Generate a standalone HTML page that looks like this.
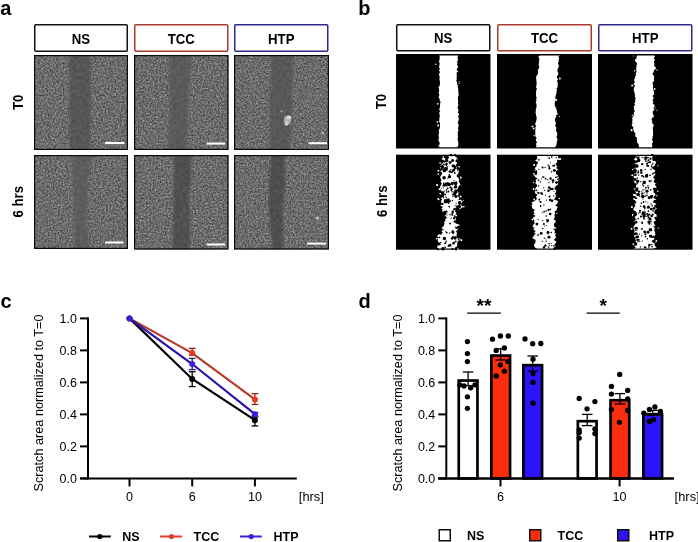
<!DOCTYPE html><html><head><meta charset="utf-8"><style>html,body{margin:0;padding:0;background:#fff;width:698px;height:542px;overflow:hidden;}svg{display:block;font-family:"Liberation Sans",sans-serif;filter:blur(0.35px);}</style></head><body><svg width="698" height="542" viewBox="0 0 698 542"><defs><filter id="soft" x="-20%" y="-20%" width="140%" height="140%"><feGaussianBlur stdDeviation="1.1"/></filter><filter id="n1" filterUnits="objectBoundingBox" x="0" y="0" width="1" height="1" color-interpolation-filters="sRGB"><feTurbulence type="fractalNoise" baseFrequency="0.6" numOctaves="3" seed="3" result="t"/><feColorMatrix in="t" type="matrix" values="0.55 0 0 0 0.14  0.55 0 0 0 0.14  0.55 0 0 0 0.14  0 0 0 0 1" result="c"/><feTurbulence type="fractalNoise" baseFrequency="0.7" numOctaves="1" seed="20" result="t2"/><feColorMatrix in="t2" type="matrix" values="4.0 0 0 0 -2.5  4.0 0 0 0 -2.5  4.0 0 0 0 -2.5  0 0 0 0 1" result="s"/><feComposite in="c" in2="s" operator="arithmetic" k1="0" k2="1" k3="0.25" k4="0" result="c2"/><feGaussianBlur in="c2" stdDeviation="0.3"/></filter><filter id="s1" filterUnits="objectBoundingBox" x="0" y="0" width="1" height="1" color-interpolation-filters="sRGB"><feTurbulence type="fractalNoise" baseFrequency="0.3" numOctaves="1" seed="53" result="t"/><feColorMatrix in="t" type="matrix" values="0.12 0 0 0 0.277  0.12 0 0 0 0.277  0.12 0 0 0 0.277  0 0 0 0 1" result="c"/><feGaussianBlur in="c" stdDeviation="0.35"/></filter><clipPath id="c1"><rect x="34" y="55" width="94" height="95"/></clipPath><mask id="b1" maskUnits="userSpaceOnUse" x="34" y="55" width="94" height="95"><path d="M69.3,55.0 L69.7,57.0 L69.5,59.0 L69.0,61.0 L68.9,63.0 L69.0,65.0 L69.4,67.0 L69.0,69.0 L69.7,71.0 L69.6,73.0 L70.1,75.0 L69.9,77.0 L69.1,79.0 L69.3,81.0 L69.1,83.0 L69.7,85.0 L69.6,87.0 L69.0,89.0 L69.7,91.0 L69.3,93.0 L69.4,95.0 L69.9,97.0 L69.2,99.0 L69.5,101.0 L69.8,103.0 L70.1,105.0 L69.4,107.0 L69.2,109.0 L69.0,111.0 L69.9,113.0 L70.1,115.0 L69.9,117.0 L69.8,119.0 L70.1,121.0 L69.7,123.0 L69.2,125.0 L69.9,127.0 L70.2,129.0 L69.7,131.0 L69.2,133.0 L69.4,135.0 L69.3,137.0 L69.4,139.0 L69.8,141.0 L69.4,143.0 L70.0,145.0 L70.4,147.0 L69.7,149.0 L69.8,150.0 L90.5,150.0 L89.9,149.0 L90.5,147.0 L90.5,145.0 L90.0,143.0 L90.6,141.0 L89.8,139.0 L90.5,137.0 L89.7,135.0 L90.2,133.0 L90.5,131.0 L90.0,129.0 L90.9,127.0 L90.6,125.0 L90.6,123.0 L90.9,121.0 L90.4,119.0 L90.5,117.0 L90.2,115.0 L90.6,113.0 L90.7,111.0 L90.5,109.0 L90.9,107.0 L90.2,105.0 L90.4,103.0 L91.1,101.0 L90.8,99.0 L91.0,97.0 L90.6,95.0 L90.9,93.0 L90.8,91.0 L90.6,89.0 L90.4,87.0 L90.8,85.0 L91.1,83.0 L91.3,81.0 L90.5,79.0 L90.6,77.0 L90.3,75.0 L90.7,73.0 L91.3,71.0 L90.4,69.0 L91.1,67.0 L90.2,65.0 L90.6,63.0 L90.6,61.0 L90.4,59.0 L90.0,57.0 L90.1,55.0Z" fill="#fff" filter="url(#soft)"/></mask><filter id="n2" filterUnits="objectBoundingBox" x="0" y="0" width="1" height="1" color-interpolation-filters="sRGB"><feTurbulence type="fractalNoise" baseFrequency="0.6" numOctaves="3" seed="5" result="t"/><feColorMatrix in="t" type="matrix" values="0.55 0 0 0 0.14  0.55 0 0 0 0.14  0.55 0 0 0 0.14  0 0 0 0 1" result="c"/><feTurbulence type="fractalNoise" baseFrequency="0.7" numOctaves="1" seed="22" result="t2"/><feColorMatrix in="t2" type="matrix" values="4.0 0 0 0 -2.5  4.0 0 0 0 -2.5  4.0 0 0 0 -2.5  0 0 0 0 1" result="s"/><feComposite in="c" in2="s" operator="arithmetic" k1="0" k2="1" k3="0.25" k4="0" result="c2"/><feGaussianBlur in="c2" stdDeviation="0.3"/></filter><filter id="s2" filterUnits="objectBoundingBox" x="0" y="0" width="1" height="1" color-interpolation-filters="sRGB"><feTurbulence type="fractalNoise" baseFrequency="0.3" numOctaves="1" seed="55" result="t"/><feColorMatrix in="t" type="matrix" values="0.12 0 0 0 0.293  0.12 0 0 0 0.293  0.12 0 0 0 0.293  0 0 0 0 1" result="c"/><feGaussianBlur in="c" stdDeviation="0.35"/></filter><clipPath id="c2"><rect x="134" y="55" width="94.5" height="95"/></clipPath><mask id="b2" maskUnits="userSpaceOnUse" x="134" y="55" width="94.5" height="95"><path d="M169.5,55.0 L168.7,57.0 L168.8,59.0 L169.2,61.0 L168.6,63.0 L169.1,65.0 L169.8,67.0 L169.3,69.0 L169.5,71.0 L169.9,73.0 L169.9,75.0 L169.3,77.0 L169.0,79.0 L169.0,81.0 L169.2,83.0 L169.4,85.0 L169.1,87.0 L169.2,89.0 L169.2,91.0 L169.9,93.0 L169.5,95.0 L169.7,97.0 L170.3,99.0 L169.9,101.0 L169.5,103.0 L169.7,105.0 L170.2,107.0 L169.2,109.0 L169.7,111.0 L169.6,113.0 L169.5,115.0 L169.8,117.0 L169.0,119.0 L168.8,121.0 L169.2,123.0 L168.8,125.0 L169.3,127.0 L169.3,129.0 L169.2,131.0 L168.4,133.0 L168.5,135.0 L168.0,137.0 L168.2,139.0 L168.9,141.0 L168.8,143.0 L168.8,145.0 L167.8,147.0 L167.7,149.0 L168.1,150.0 L187.1,150.0 L186.3,149.0 L186.4,147.0 L186.6,145.0 L187.4,143.0 L186.8,141.0 L187.2,139.0 L186.7,137.0 L186.5,135.0 L187.1,133.0 L187.4,131.0 L187.6,129.0 L187.9,127.0 L187.0,125.0 L187.7,123.0 L187.8,121.0 L187.4,119.0 L187.8,117.0 L188.2,115.0 L187.1,113.0 L187.3,111.0 L188.3,109.0 L187.5,107.0 L187.6,105.0 L187.5,103.0 L188.1,101.0 L188.9,99.0 L188.0,97.0 L188.4,95.0 L188.4,93.0 L189.4,91.0 L189.0,89.0 L188.9,87.0 L188.9,85.0 L189.2,83.0 L189.3,81.0 L190.1,79.0 L190.0,77.0 L190.7,75.0 L190.8,73.0 L190.1,71.0 L191.0,69.0 L191.2,67.0 L191.2,65.0 L191.2,63.0 L191.2,61.0 L191.6,59.0 L191.5,57.0 L191.6,55.0Z" fill="#fff" filter="url(#soft)"/></mask><filter id="n3" filterUnits="objectBoundingBox" x="0" y="0" width="1" height="1" color-interpolation-filters="sRGB"><feTurbulence type="fractalNoise" baseFrequency="0.6" numOctaves="3" seed="7" result="t"/><feColorMatrix in="t" type="matrix" values="0.55 0 0 0 0.14  0.55 0 0 0 0.14  0.55 0 0 0 0.14  0 0 0 0 1" result="c"/><feTurbulence type="fractalNoise" baseFrequency="0.7" numOctaves="1" seed="24" result="t2"/><feColorMatrix in="t2" type="matrix" values="4.0 0 0 0 -2.5  4.0 0 0 0 -2.5  4.0 0 0 0 -2.5  0 0 0 0 1" result="s"/><feComposite in="c" in2="s" operator="arithmetic" k1="0" k2="1" k3="0.25" k4="0" result="c2"/><feGaussianBlur in="c2" stdDeviation="0.3"/></filter><filter id="s3" filterUnits="objectBoundingBox" x="0" y="0" width="1" height="1" color-interpolation-filters="sRGB"><feTurbulence type="fractalNoise" baseFrequency="0.3" numOctaves="1" seed="57" result="t"/><feColorMatrix in="t" type="matrix" values="0.12 0 0 0 0.285  0.12 0 0 0 0.285  0.12 0 0 0 0.285  0 0 0 0 1" result="c"/><feGaussianBlur in="c" stdDeviation="0.35"/></filter><clipPath id="c3"><rect x="234" y="55" width="95" height="95"/></clipPath><mask id="b3" maskUnits="userSpaceOnUse" x="234" y="55" width="95" height="95"><path d="M272.1,55.0 L271.8,57.0 L271.1,59.0 L272.0,61.0 L271.7,63.0 L271.0,65.0 L271.1,67.0 L271.8,69.0 L271.0,71.0 L271.3,73.0 L270.5,75.0 L271.4,77.0 L270.4,79.0 L271.3,81.0 L270.5,83.0 L270.2,85.0 L271.1,87.0 L270.5,89.0 L270.3,91.0 L270.7,93.0 L270.0,95.0 L269.9,97.0 L269.8,99.0 L269.6,101.0 L269.8,103.0 L270.1,105.0 L269.9,107.0 L270.0,109.0 L270.0,111.0 L269.9,113.0 L269.4,115.0 L269.6,117.0 L270.3,119.0 L269.8,121.0 L270.1,123.0 L269.5,125.0 L269.7,127.0 L270.3,129.0 L270.1,131.0 L270.5,133.0 L270.1,135.0 L270.0,137.0 L269.9,139.0 L270.0,141.0 L270.2,143.0 L270.5,145.0 L270.1,147.0 L270.4,149.0 L269.5,150.0 L289.9,150.0 L289.6,149.0 L290.7,147.0 L289.9,145.0 L290.7,143.0 L290.9,141.0 L290.5,139.0 L290.8,137.0 L290.6,135.0 L290.6,133.0 L291.1,131.0 L290.9,129.0 L290.7,127.0 L291.1,125.0 L291.5,123.0 L291.2,121.0 L291.4,119.0 L291.4,117.0 L291.8,115.0 L291.2,113.0 L291.1,111.0 L291.8,109.0 L292.3,107.0 L292.4,105.0 L291.9,103.0 L292.5,101.0 L292.0,99.0 L292.2,97.0 L291.9,95.0 L291.8,93.0 L292.6,91.0 L292.7,89.0 L292.4,87.0 L291.7,85.0 L292.4,83.0 L292.6,81.0 L292.8,79.0 L292.8,77.0 L292.0,75.0 L292.1,73.0 L293.1,71.0 L292.4,69.0 L293.0,67.0 L293.0,65.0 L292.6,63.0 L293.0,61.0 L292.9,59.0 L293.1,57.0 L292.8,55.0Z" fill="#fff" filter="url(#soft)"/></mask><filter id="n4" filterUnits="objectBoundingBox" x="0" y="0" width="1" height="1" color-interpolation-filters="sRGB"><feTurbulence type="fractalNoise" baseFrequency="0.6" numOctaves="3" seed="9" result="t"/><feColorMatrix in="t" type="matrix" values="0.55 0 0 0 0.14  0.55 0 0 0 0.14  0.55 0 0 0 0.14  0 0 0 0 1" result="c"/><feTurbulence type="fractalNoise" baseFrequency="0.7" numOctaves="1" seed="26" result="t2"/><feColorMatrix in="t2" type="matrix" values="4.0 0 0 0 -2.5  4.0 0 0 0 -2.5  4.0 0 0 0 -2.5  0 0 0 0 1" result="s"/><feComposite in="c" in2="s" operator="arithmetic" k1="0" k2="1" k3="0.25" k4="0" result="c2"/><feGaussianBlur in="c2" stdDeviation="0.3"/></filter><filter id="s4" filterUnits="objectBoundingBox" x="0" y="0" width="1" height="1" color-interpolation-filters="sRGB"><feTurbulence type="fractalNoise" baseFrequency="0.3" numOctaves="1" seed="59" result="t"/><feColorMatrix in="t" type="matrix" values="0.12 0 0 0 0.305  0.12 0 0 0 0.305  0.12 0 0 0 0.305  0 0 0 0 1" result="c"/><feGaussianBlur in="c" stdDeviation="0.35"/></filter><clipPath id="c4"><rect x="34" y="155" width="94" height="94"/></clipPath><mask id="b4" maskUnits="userSpaceOnUse" x="34" y="155" width="94" height="94"><path d="M71.2,155.0 L71.3,157.0 L72.3,159.0 L71.7,161.0 L72.4,163.0 L72.8,165.0 L72.1,167.0 L72.5,169.0 L73.3,171.0 L72.4,173.0 L73.0,175.0 L72.7,177.0 L73.5,179.0 L73.4,181.0 L72.9,183.0 L73.7,185.0 L73.2,187.0 L74.1,189.0 L73.4,191.0 L73.4,193.0 L73.8,195.0 L74.0,197.0 L74.6,199.0 L73.9,201.0 L74.5,203.0 L74.0,205.0 L74.8,207.0 L74.2,209.0 L74.9,211.0 L74.4,213.0 L74.4,215.0 L74.9,217.0 L75.0,219.0 L74.6,221.0 L74.8,223.0 L74.3,225.0 L74.1,227.0 L74.4,229.0 L74.9,231.0 L74.5,233.0 L74.2,235.0 L74.1,237.0 L74.6,239.0 L73.9,241.0 L74.7,243.0 L74.5,245.0 L74.1,247.0 L73.9,249.0 L74.2,249.0 L90.6,249.0 L90.0,249.0 L90.2,247.0 L89.5,245.0 L88.9,243.0 L89.1,241.0 L89.0,239.0 L88.2,237.0 L88.0,235.0 L88.0,233.0 L87.9,231.0 L87.7,229.0 L87.4,227.0 L87.1,225.0 L87.0,223.0 L86.7,221.0 L87.4,219.0 L86.5,217.0 L87.1,215.0 L87.2,213.0 L87.2,211.0 L87.5,209.0 L87.0,207.0 L86.7,205.0 L87.6,203.0 L87.9,201.0 L87.2,199.0 L88.1,197.0 L87.3,195.0 L88.2,193.0 L87.7,191.0 L88.6,189.0 L88.8,187.0 L88.3,185.0 L88.2,183.0 L88.6,181.0 L88.3,179.0 L89.0,177.0 L89.2,175.0 L89.6,173.0 L90.3,171.0 L90.1,169.0 L91.0,167.0 L91.2,165.0 L90.5,163.0 L91.4,161.0 L91.9,159.0 L91.9,157.0 L91.6,155.0Z" fill="#fff" filter="url(#soft)"/></mask><filter id="n5" filterUnits="objectBoundingBox" x="0" y="0" width="1" height="1" color-interpolation-filters="sRGB"><feTurbulence type="fractalNoise" baseFrequency="0.6" numOctaves="3" seed="11" result="t"/><feColorMatrix in="t" type="matrix" values="0.55 0 0 0 0.14  0.55 0 0 0 0.14  0.55 0 0 0 0.14  0 0 0 0 1" result="c"/><feTurbulence type="fractalNoise" baseFrequency="0.7" numOctaves="1" seed="28" result="t2"/><feColorMatrix in="t2" type="matrix" values="4.0 0 0 0 -2.5  4.0 0 0 0 -2.5  4.0 0 0 0 -2.5  0 0 0 0 1" result="s"/><feComposite in="c" in2="s" operator="arithmetic" k1="0" k2="1" k3="0.25" k4="0" result="c2"/><feGaussianBlur in="c2" stdDeviation="0.3"/></filter><filter id="s5" filterUnits="objectBoundingBox" x="0" y="0" width="1" height="1" color-interpolation-filters="sRGB"><feTurbulence type="fractalNoise" baseFrequency="0.3" numOctaves="1" seed="61" result="t"/><feColorMatrix in="t" type="matrix" values="0.12 0 0 0 0.254  0.12 0 0 0 0.254  0.12 0 0 0 0.254  0 0 0 0 1" result="c"/><feGaussianBlur in="c" stdDeviation="0.35"/></filter><clipPath id="c5"><rect x="134" y="155" width="94.5" height="94.5"/></clipPath><mask id="b5" maskUnits="userSpaceOnUse" x="134" y="155" width="94.5" height="94.5"><path d="M174.2,155.0 L174.6,157.0 L174.2,159.0 L173.8,161.0 L173.7,163.0 L173.9,165.0 L173.7,167.0 L174.6,169.0 L173.8,171.0 L173.8,173.0 L173.6,175.0 L173.7,177.0 L174.5,179.0 L173.6,181.0 L173.6,183.0 L173.2,185.0 L173.8,187.0 L173.4,189.0 L173.1,191.0 L173.2,193.0 L173.1,195.0 L173.4,197.0 L173.7,199.0 L173.8,201.0 L173.7,203.0 L173.3,205.0 L174.0,207.0 L173.6,209.0 L172.8,211.0 L173.8,213.0 L173.5,215.0 L172.8,217.0 L173.2,219.0 L173.5,221.0 L173.2,223.0 L173.3,225.0 L172.7,227.0 L172.6,229.0 L172.5,231.0 L173.0,233.0 L173.0,235.0 L172.8,237.0 L173.2,239.0 L172.8,241.0 L172.9,243.0 L173.0,245.0 L172.1,247.0 L172.9,249.0 L172.9,249.5 L190.6,249.5 L189.6,249.0 L189.7,247.0 L189.6,245.0 L189.4,243.0 L189.9,241.0 L190.1,239.0 L189.2,237.0 L190.0,235.0 L189.9,233.0 L190.1,231.0 L189.5,229.0 L189.1,227.0 L189.9,225.0 L190.1,223.0 L190.0,221.0 L190.0,219.0 L189.5,217.0 L189.9,215.0 L189.6,213.0 L189.8,211.0 L189.6,209.0 L188.9,207.0 L189.1,205.0 L189.8,203.0 L189.6,201.0 L189.5,199.0 L189.3,197.0 L189.1,195.0 L189.7,193.0 L189.6,191.0 L190.0,189.0 L190.1,187.0 L190.1,185.0 L190.2,183.0 L191.0,181.0 L190.6,179.0 L191.2,177.0 L190.7,175.0 L190.9,173.0 L190.7,171.0 L191.3,169.0 L191.6,167.0 L190.9,165.0 L191.7,163.0 L191.1,161.0 L191.5,159.0 L192.0,157.0 L192.3,155.0Z" fill="#fff" filter="url(#soft)"/></mask><filter id="n6" filterUnits="objectBoundingBox" x="0" y="0" width="1" height="1" color-interpolation-filters="sRGB"><feTurbulence type="fractalNoise" baseFrequency="0.6" numOctaves="3" seed="13" result="t"/><feColorMatrix in="t" type="matrix" values="0.55 0 0 0 0.14  0.55 0 0 0 0.14  0.55 0 0 0 0.14  0 0 0 0 1" result="c"/><feTurbulence type="fractalNoise" baseFrequency="0.7" numOctaves="1" seed="30" result="t2"/><feColorMatrix in="t2" type="matrix" values="4.0 0 0 0 -2.5  4.0 0 0 0 -2.5  4.0 0 0 0 -2.5  0 0 0 0 1" result="s"/><feComposite in="c" in2="s" operator="arithmetic" k1="0" k2="1" k3="0.25" k4="0" result="c2"/><feGaussianBlur in="c2" stdDeviation="0.3"/></filter><filter id="s6" filterUnits="objectBoundingBox" x="0" y="0" width="1" height="1" color-interpolation-filters="sRGB"><feTurbulence type="fractalNoise" baseFrequency="0.3" numOctaves="1" seed="63" result="t"/><feColorMatrix in="t" type="matrix" values="0.12 0 0 0 0.246  0.12 0 0 0 0.246  0.12 0 0 0 0.246  0 0 0 0 1" result="c"/><feGaussianBlur in="c" stdDeviation="0.35"/></filter><clipPath id="c6"><rect x="234" y="155" width="95" height="94.5"/></clipPath><mask id="b6" maskUnits="userSpaceOnUse" x="234" y="155" width="95" height="94.5"><path d="M270.8,155.0 L270.6,157.0 L270.9,159.0 L270.6,161.0 L269.9,163.0 L270.5,165.0 L270.1,167.0 L269.4,169.0 L270.0,171.0 L269.9,173.0 L269.6,175.0 L269.4,177.0 L269.7,179.0 L269.7,181.0 L268.4,183.0 L269.4,185.0 L268.9,187.0 L268.7,189.0 L268.7,191.0 L268.6,193.0 L269.5,195.0 L269.4,197.0 L269.5,199.0 L268.7,201.0 L269.0,203.0 L268.4,205.0 L268.9,207.0 L268.6,209.0 L268.8,211.0 L268.5,213.0 L269.7,215.0 L270.0,217.0 L270.2,219.0 L269.7,221.0 L270.7,223.0 L270.1,225.0 L270.2,227.0 L270.2,229.0 L270.6,231.0 L270.7,233.0 L271.2,235.0 L271.3,237.0 L272.1,239.0 L271.9,241.0 L272.5,243.0 L272.4,245.0 L272.6,247.0 L272.9,249.0 L272.3,249.5 L282.5,249.5 L283.2,249.0 L282.9,247.0 L282.5,245.0 L283.1,243.0 L283.5,241.0 L283.4,239.0 L283.5,237.0 L282.6,235.0 L282.7,233.0 L283.5,231.0 L283.4,229.0 L282.5,227.0 L282.9,225.0 L283.1,223.0 L282.9,221.0 L282.7,219.0 L283.3,217.0 L282.5,215.0 L283.3,213.0 L283.5,211.0 L283.0,209.0 L283.1,207.0 L283.5,205.0 L283.0,203.0 L284.2,201.0 L284.1,199.0 L284.0,197.0 L283.7,195.0 L284.3,193.0 L284.6,191.0 L285.1,189.0 L284.5,187.0 L285.4,185.0 L284.9,183.0 L285.5,181.0 L284.6,179.0 L284.5,177.0 L284.9,175.0 L284.7,173.0 L285.2,171.0 L284.7,169.0 L284.4,167.0 L284.7,165.0 L284.6,163.0 L284.4,161.0 L285.1,159.0 L285.1,157.0 L284.8,155.0Z" fill="#fff" filter="url(#soft)"/></mask></defs><text x="0.3" y="14.6" font-family="Liberation Sans, sans-serif" font-size="20" font-weight="bold" text-anchor="start" fill="#000">a</text><text x="358.3" y="14.6" font-family="Liberation Sans, sans-serif" font-size="20" font-weight="bold" text-anchor="start" fill="#000">b</text><text x="0.6" y="307.7" font-family="Liberation Sans, sans-serif" font-size="20" font-weight="bold" text-anchor="start" fill="#000">c</text><text x="358.6" y="307.7" font-family="Liberation Sans, sans-serif" font-size="20" font-weight="bold" text-anchor="start" fill="#000">d</text><rect x="34.75" y="24.75" width="92.5" height="26.5" rx="1.0" fill="#fff" stroke="#111" stroke-width="1.5"/><text x="0" y="0" transform="translate(81.0 43.6) scale(0.93 1)" font-family="Liberation Sans, sans-serif" font-size="14.2" font-weight="bold" text-anchor="middle" fill="#000">NS</text><rect x="134.75" y="24.75" width="93.0" height="26.5" rx="1.0" fill="#fff" stroke="#aa3a33" stroke-width="1.5"/><text x="0" y="0" transform="translate(181.25 43.6) scale(0.93 1)" font-family="Liberation Sans, sans-serif" font-size="14.2" font-weight="bold" text-anchor="middle" fill="#000">TCC</text><rect x="234.75" y="24.75" width="93.0" height="26.5" rx="1.0" fill="#fff" stroke="#2d2a8c" stroke-width="1.5"/><text x="0" y="0" transform="translate(281.25 43.6) scale(0.93 1)" font-family="Liberation Sans, sans-serif" font-size="14.2" font-weight="bold" text-anchor="middle" fill="#000">HTP</text><rect x="396.75" y="24.75" width="93.0" height="26.0" rx="1.0" fill="#fff" stroke="#111" stroke-width="1.5"/><text x="0" y="0" transform="translate(443.25 43.1) scale(0.93 1)" font-family="Liberation Sans, sans-serif" font-size="14.2" font-weight="bold" text-anchor="middle" fill="#000">NS</text><rect x="497.75" y="24.75" width="93.5" height="26.0" rx="1.0" fill="#fff" stroke="#aa3a33" stroke-width="1.5"/><text x="0" y="0" transform="translate(544.5 43.1) scale(0.93 1)" font-family="Liberation Sans, sans-serif" font-size="14.2" font-weight="bold" text-anchor="middle" fill="#000">TCC</text><rect x="598.75" y="24.75" width="93.0" height="26.0" rx="1.0" fill="#fff" stroke="#2d2a8c" stroke-width="1.5"/><text x="0" y="0" transform="translate(645.25 43.1) scale(0.93 1)" font-family="Liberation Sans, sans-serif" font-size="14.2" font-weight="bold" text-anchor="middle" fill="#000">HTP</text><text x="0" y="0" transform="translate(22.5 102.3) rotate(-90) scale(0.93 1)" font-family="Liberation Sans, sans-serif" font-size="14.2" font-weight="bold" text-anchor="middle" fill="#000">T0</text><text x="0" y="0" transform="translate(22.5 201.8) rotate(-90) scale(0.93 1)" font-family="Liberation Sans, sans-serif" font-size="14.2" font-weight="bold" text-anchor="middle" fill="#000">6 hrs</text><text x="0" y="0" transform="translate(386.0 101.5) rotate(-90) scale(0.93 1)" font-family="Liberation Sans, sans-serif" font-size="14.2" font-weight="bold" text-anchor="middle" fill="#000">T0</text><text x="0" y="0" transform="translate(386.6 201.2) rotate(-90) scale(0.93 1)" font-family="Liberation Sans, sans-serif" font-size="14.2" font-weight="bold" text-anchor="middle" fill="#000">6 hrs</text><g clip-path="url(#c1)"><rect x="34" y="55" width="94" height="95" fill="#666" filter="url(#n1)"/><rect x="34" y="55" width="94" height="95" fill="#555" filter="url(#s1)" mask="url(#b1)"/><rect x="105" y="142" width="19.200000000000003" height="2" fill="#fff"/></g><rect x="34.6" y="55.6" width="92.8" height="93.8" fill="none" stroke="#0a0a0a" stroke-width="1.2"/><g clip-path="url(#c2)"><rect x="134" y="55" width="94.5" height="95" fill="#666" filter="url(#n2)"/><rect x="134" y="55" width="94.5" height="95" fill="#555" filter="url(#s2)" mask="url(#b2)"/><rect x="206.8" y="142.6" width="18.19999999999999" height="2" fill="#fff"/></g><rect x="134.6" y="55.6" width="93.3" height="93.8" fill="none" stroke="#0a0a0a" stroke-width="1.2"/><g clip-path="url(#c3)"><rect x="234" y="55" width="95" height="95" fill="#666" filter="url(#n3)"/><rect x="234" y="55" width="95" height="95" fill="#555" filter="url(#s3)" mask="url(#b3)"/><ellipse cx="287.5" cy="120" rx="3.6" ry="4.6" fill="#b0b0b0"/><ellipse cx="289" cy="117.5" rx="2.4" ry="2" fill="#d8d8d8"/><ellipse cx="286.5" cy="123.5" rx="2" ry="2.2" fill="#cfcfcf"/><ellipse cx="281.5" cy="111.5" rx="1" ry="1" fill="#b5b5b5"/><ellipse cx="322.6" cy="133" rx="1.6" ry="1.2" fill="#aaa"/><rect x="308.6" y="142.2" width="18.399999999999977" height="2" fill="#fff"/></g><rect x="234.6" y="55.6" width="93.8" height="93.8" fill="none" stroke="#0a0a0a" stroke-width="1.2"/><g clip-path="url(#c4)"><rect x="34" y="155" width="94" height="94" fill="#666" filter="url(#n4)"/><rect x="34" y="155" width="94" height="94" fill="#555" filter="url(#s4)" mask="url(#b4)"/><rect x="105" y="241.5" width="18.5" height="2" fill="#fff"/></g><rect x="34.6" y="155.6" width="92.8" height="92.8" fill="none" stroke="#0a0a0a" stroke-width="1.2"/><g clip-path="url(#c5)"><rect x="134" y="155" width="94.5" height="94.5" fill="#666" filter="url(#n5)"/><rect x="134" y="155" width="94.5" height="94.5" fill="#555" filter="url(#s5)" mask="url(#b5)"/><rect x="206.8" y="243.5" width="18.399999999999977" height="2" fill="#fff"/></g><rect x="134.6" y="155.6" width="93.3" height="93.3" fill="none" stroke="#0a0a0a" stroke-width="1.2"/><g clip-path="url(#c6)"><rect x="234" y="155" width="95" height="94.5" fill="#666" filter="url(#n6)"/><rect x="234" y="155" width="95" height="94.5" fill="#555" filter="url(#s6)" mask="url(#b6)"/><ellipse cx="317.3" cy="218.2" rx="1.8" ry="1.4" fill="#b8b8b8"/><rect x="307.3" y="242.6" width="18.69999999999999" height="2" fill="#fff"/></g><rect x="234.6" y="155.6" width="93.8" height="93.3" fill="none" stroke="#0a0a0a" stroke-width="1.2"/><rect x="396" y="54" width="94.5" height="94.5" fill="#000"/><path d="M439.1,55.4 L439.9,56.9 L439.5,58.4 L439.6,59.9 L438.8,61.4 L439.7,62.9 L439.6,64.4 L439.2,65.9 L439.0,67.4 L440.0,68.9 L438.8,70.4 L440.2,71.9 L439.2,73.4 L439.0,74.9 L439.7,76.4 L439.5,77.9 L439.5,79.4 L439.7,80.9 L440.2,82.4 L439.7,83.9 L439.9,85.4 L438.4,86.9 L439.0,88.4 L439.1,89.9 L439.1,91.4 L438.5,92.9 L439.4,94.4 L439.0,95.9 L438.5,97.4 L439.8,98.9 L439.6,100.4 L440.7,101.9 L440.1,103.4 L440.1,104.9 L440.0,106.4 L439.8,107.9 L439.0,109.4 L440.2,110.9 L439.3,112.4 L439.4,113.9 L439.7,115.4 L439.8,116.9 L439.2,118.4 L439.4,119.9 L439.0,121.4 L440.1,122.9 L439.9,124.4 L440.1,125.9 L439.9,127.4 L439.4,128.9 L438.6,130.4 L439.1,131.9 L438.9,133.4 L438.5,134.9 L438.8,136.4 L439.0,137.9 L438.3,139.4 L438.6,140.9 L439.6,142.4 L439.6,143.9 L439.0,145.4 L439.7,146.9 L438.8,147.3 L457.2,147.3 L457.3,146.9 L458.4,145.4 L458.3,143.9 L458.3,142.4 L458.0,140.9 L457.5,139.4 L457.8,137.9 L458.1,136.4 L457.7,134.9 L457.9,133.4 L457.6,131.9 L458.6,130.4 L458.0,128.9 L458.2,127.4 L458.5,125.9 L458.7,124.4 L457.6,122.9 L458.4,121.4 L458.4,119.9 L459.1,118.4 L458.1,116.9 L458.5,115.4 L459.0,113.9 L457.8,112.4 L458.4,110.9 L458.5,109.4 L457.5,107.9 L457.9,106.4 L458.4,104.9 L457.9,103.4 L458.2,101.9 L458.1,100.4 L458.0,98.9 L457.8,97.4 L458.3,95.9 L458.7,94.4 L458.3,92.9 L458.4,91.4 L458.1,89.9 L458.3,88.4 L457.6,86.9 L458.1,85.4 L456.9,83.9 L457.2,82.4 L456.2,80.9 L456.8,79.4 L456.5,77.9 L456.9,76.4 L456.5,74.9 L456.8,73.4 L456.8,71.9 L457.2,70.4 L456.6,68.9 L458.0,67.4 L457.8,65.9 L456.9,64.4 L457.6,62.9 L457.0,61.4 L458.2,59.9 L457.7,58.4 L457.5,56.9 L458.4,55.4Z" fill="#fff"/><g fill="#fff"><circle cx="438.2" cy="125.4" r="0.98"/><circle cx="457.7" cy="71.4" r="0.60"/><circle cx="437.8" cy="103.8" r="0.89"/><circle cx="459.1" cy="81.8" r="0.57"/><circle cx="459.1" cy="83.5" r="0.61"/><circle cx="435.8" cy="64.3" r="0.76"/><circle cx="438.8" cy="146.2" r="0.59"/><circle cx="437.5" cy="121.9" r="0.80"/></g><rect x="497" y="54" width="95" height="94.5" fill="#000"/><path d="M539.7,55.4 L538.2,56.9 L539.4,58.4 L539.1,59.9 L539.0,61.4 L538.9,62.9 L538.6,64.4 L539.0,65.9 L539.3,67.4 L538.4,68.9 L537.7,70.4 L538.3,71.9 L537.8,73.4 L537.3,74.9 L536.1,76.4 L536.1,77.9 L536.3,79.4 L536.4,80.9 L536.7,82.4 L536.5,83.9 L536.5,85.4 L535.9,86.9 L536.8,88.4 L536.5,89.9 L536.0,91.4 L536.1,92.9 L536.1,94.4 L535.9,95.9 L536.7,97.4 L536.2,98.9 L536.5,100.4 L535.6,101.9 L536.3,103.4 L536.5,104.9 L536.5,106.4 L536.4,107.9 L535.6,109.4 L535.9,110.9 L535.5,112.4 L535.9,113.9 L536.1,115.4 L536.6,116.9 L536.7,118.4 L536.4,119.9 L536.1,121.4 L535.4,122.9 L535.1,124.4 L536.2,125.9 L535.2,127.4 L535.6,128.9 L535.1,130.4 L535.4,131.9 L535.3,133.4 L535.3,134.9 L535.4,136.4 L536.7,137.9 L535.7,139.4 L536.1,140.9 L537.1,142.4 L535.6,143.9 L536.6,145.4 L535.9,146.9 L535.7,147.3 L555.0,147.3 L555.0,146.9 L556.4,145.4 L556.5,143.9 L556.9,142.4 L556.9,140.9 L557.7,139.4 L556.7,137.9 L556.6,136.4 L557.2,134.9 L557.3,133.4 L556.7,131.9 L555.9,130.4 L556.3,128.9 L556.3,127.4 L555.1,125.9 L555.5,124.4 L556.1,122.9 L555.1,121.4 L554.8,119.9 L555.0,118.4 L556.3,116.9 L556.0,115.4 L558.1,113.9 L556.9,112.4 L557.0,110.9 L556.4,109.4 L556.1,107.9 L555.0,106.4 L554.8,104.9 L554.7,103.4 L555.0,101.9 L555.2,100.4 L555.9,98.9 L555.1,97.4 L555.7,95.9 L556.0,94.4 L556.6,92.9 L556.4,91.4 L557.1,89.9 L556.4,88.4 L557.8,86.9 L557.6,85.4 L557.8,83.9 L557.7,82.4 L556.8,80.9 L558.2,79.4 L557.0,77.9 L556.9,76.4 L557.8,74.9 L558.5,73.4 L557.7,71.9 L557.3,70.4 L557.8,68.9 L558.3,67.4 L559.1,65.9 L558.3,64.4 L558.0,62.9 L558.8,61.4 L558.5,59.9 L559.3,58.4 L558.3,56.9 L559.8,55.4Z" fill="#fff"/><g fill="#fff"><circle cx="532.4" cy="126.4" r="0.95"/><circle cx="534.1" cy="135.5" r="0.64"/><circle cx="559.4" cy="116.4" r="0.51"/><circle cx="533.6" cy="128.5" r="0.97"/><circle cx="556.2" cy="100.0" r="1.08"/><circle cx="559.9" cy="78.5" r="0.92"/></g><rect x="598" y="54" width="94.5" height="94.5" fill="#000"/><path d="M636.9,55.4 L636.6,56.9 L636.5,58.4 L634.7,59.9 L635.3,61.4 L637.0,62.9 L636.8,64.4 L636.4,65.9 L636.4,67.4 L636.1,68.9 L636.4,70.4 L636.6,71.9 L635.5,73.4 L636.1,74.9 L635.2,76.4 L635.0,77.9 L634.2,79.4 L634.2,80.9 L635.0,82.4 L633.4,83.9 L635.0,85.4 L634.2,86.9 L633.9,88.4 L633.6,89.9 L634.2,91.4 L634.5,92.9 L635.0,94.4 L634.8,95.9 L635.3,97.4 L635.5,98.9 L635.1,100.4 L635.3,101.9 L634.2,103.4 L635.2,104.9 L633.6,106.4 L634.2,107.9 L633.9,109.4 L634.8,110.9 L633.9,112.4 L633.8,113.9 L633.8,115.4 L632.7,116.9 L632.1,118.4 L632.7,119.9 L631.9,121.4 L632.7,122.9 L631.6,124.4 L632.1,125.9 L633.5,127.4 L633.0,128.9 L633.6,130.4 L634.1,131.9 L635.5,133.4 L635.2,134.9 L635.3,136.4 L637.2,137.9 L636.7,139.4 L637.1,140.9 L636.9,142.4 L638.6,143.9 L638.7,145.4 L639.0,146.9 L639.1,147.3 L652.9,147.3 L652.1,146.9 L652.4,145.4 L651.7,143.9 L652.8,142.4 L652.8,140.9 L651.8,139.4 L652.8,137.9 L652.5,136.4 L653.3,134.9 L652.9,133.4 L653.1,131.9 L653.1,130.4 L652.9,128.9 L652.7,127.4 L653.8,125.9 L653.5,124.4 L652.0,122.9 L652.4,121.4 L651.6,119.9 L651.6,118.4 L653.6,116.9 L653.9,115.4 L652.9,113.9 L652.7,112.4 L653.0,110.9 L654.7,109.4 L653.3,107.9 L654.5,106.4 L654.7,104.9 L652.6,103.4 L653.5,101.9 L652.6,100.4 L653.1,98.9 L653.9,97.4 L652.3,95.9 L654.1,94.4 L654.0,92.9 L654.0,91.4 L653.4,89.9 L653.1,88.4 L652.9,86.9 L653.2,85.4 L652.7,83.9 L652.5,82.4 L654.2,80.9 L653.9,79.4 L654.1,77.9 L654.1,76.4 L653.2,74.9 L652.4,73.4 L653.9,71.9 L653.6,70.4 L655.7,68.9 L656.0,67.4 L654.1,65.9 L654.4,64.4 L654.2,62.9 L653.8,61.4 L655.1,59.9 L653.6,58.4 L654.7,56.9 L654.7,55.4Z" fill="#fff"/><g fill="#fff"><circle cx="633.2" cy="56.1" r="0.51"/><circle cx="654.7" cy="88.9" r="0.86"/><circle cx="634.7" cy="70.8" r="0.72"/><circle cx="656.9" cy="110.3" r="0.56"/><circle cx="631.8" cy="130.8" r="0.63"/><circle cx="631.6" cy="130.0" r="0.91"/><circle cx="632.3" cy="115.4" r="0.69"/><circle cx="632.2" cy="85.5" r="1.01"/><circle cx="656.9" cy="70.0" r="0.63"/><circle cx="655.2" cy="107.7" r="0.57"/></g><rect x="396" y="154.7" width="94.5" height="95.0" fill="#000"/><path d="M442.5,156.1 L442.9,157.6 L441.3,159.1 L444.5,160.6 L443.6,162.1 L442.4,163.6 L440.7,165.1 L440.7,166.6 L442.9,168.1 L442.6,169.6 L440.4,171.1 L441.9,172.6 L442.3,174.1 L440.9,175.6 L440.3,177.1 L440.0,178.6 L441.7,180.1 L440.2,181.6 L441.6,183.1 L441.5,184.6 L440.0,186.1 L440.4,187.6 L438.6,189.1 L441.3,190.6 L438.2,192.1 L439.2,193.6 L440.3,195.1 L442.7,196.6 L440.6,198.1 L441.8,199.6 L441.0,201.1 L441.1,202.6 L443.5,204.1 L440.2,205.6 L443.0,207.1 L441.4,208.6 L442.1,210.1 L442.5,211.6 L446.8,213.1 L446.3,214.6 L443.5,216.1 L447.3,217.6 L445.0,219.1 L445.6,220.6 L444.1,222.1 L444.5,223.6 L444.1,225.1 L443.3,226.6 L441.4,228.1 L443.7,229.6 L441.1,231.1 L443.1,232.6 L439.3,234.1 L438.1,235.6 L439.9,237.1 L437.2,238.6 L438.0,240.1 L437.5,241.6 L440.1,243.1 L441.0,244.6 L438.0,246.1 L437.1,247.6 L438.0,248.5 L458.6,248.5 L456.8,247.6 L456.9,246.1 L457.3,244.6 L457.2,243.1 L457.9,241.6 L459.9,240.1 L458.0,238.6 L456.7,237.1 L456.8,235.6 L456.5,234.1 L458.0,232.6 L456.7,231.1 L457.9,229.6 L457.2,228.1 L456.6,226.6 L460.2,225.1 L455.9,223.6 L455.1,222.1 L456.6,220.6 L456.1,219.1 L455.3,217.6 L453.4,216.1 L456.0,214.6 L456.5,213.1 L457.8,211.6 L459.3,210.1 L461.1,208.6 L463.3,207.1 L461.5,205.6 L460.7,204.1 L462.3,202.6 L462.5,201.1 L459.9,199.6 L459.0,198.1 L458.3,196.6 L458.3,195.1 L458.4,193.6 L458.6,192.1 L456.5,190.6 L457.8,189.1 L458.5,187.6 L458.7,186.1 L460.6,184.6 L459.7,183.1 L458.9,181.6 L461.3,180.1 L458.3,178.6 L458.4,177.1 L460.2,175.6 L457.6,174.1 L460.5,172.6 L459.3,171.1 L457.4,169.6 L459.6,168.1 L459.9,166.6 L456.4,165.1 L457.1,163.6 L456.8,162.1 L459.0,160.6 L457.4,159.1 L456.4,157.6 L456.1,156.1Z" fill="#fff"/><g fill="#000"><circle cx="440.7" cy="233.6" r="1.23"/><circle cx="444.1" cy="177.7" r="1.78"/><circle cx="458.2" cy="168.2" r="1.51"/><circle cx="456.1" cy="248.8" r="1.59"/><circle cx="445.4" cy="201.7" r="1.79"/><circle cx="455.7" cy="186.7" r="1.58"/><circle cx="452.9" cy="232.1" r="1.62"/><circle cx="459.8" cy="180.2" r="1.07"/><circle cx="454.1" cy="218.2" r="1.11"/><circle cx="452.6" cy="160.4" r="1.51"/><circle cx="458.9" cy="175.5" r="1.01"/><circle cx="455.1" cy="238.0" r="1.70"/><circle cx="452.2" cy="238.2" r="1.30"/><circle cx="440.9" cy="199.5" r="1.03"/><circle cx="456.8" cy="211.2" r="1.55"/><circle cx="455.1" cy="167.9" r="1.47"/><circle cx="455.9" cy="155.7" r="1.08"/><circle cx="458.9" cy="206.3" r="1.28"/><circle cx="460.1" cy="176.9" r="1.09"/><circle cx="457.1" cy="165.6" r="1.46"/><circle cx="455.7" cy="195.9" r="1.06"/><circle cx="444.4" cy="238.4" r="1.75"/><circle cx="442.8" cy="194.8" r="1.79"/><circle cx="449.9" cy="171.5" r="1.30"/><circle cx="457.1" cy="206.2" r="1.01"/><circle cx="449.3" cy="184.3" r="1.64"/><circle cx="445.9" cy="200.7" r="1.76"/><circle cx="459.3" cy="188.6" r="1.56"/><circle cx="448.9" cy="184.5" r="1.82"/><circle cx="455.7" cy="183.7" r="1.55"/><circle cx="455.9" cy="196.7" r="1.33"/><circle cx="445.3" cy="217.6" r="1.13"/><circle cx="457.6" cy="231.6" r="1.33"/><circle cx="454.2" cy="209.4" r="1.08"/><circle cx="442.6" cy="192.9" r="1.59"/><circle cx="439.5" cy="185.7" r="1.02"/><circle cx="450.0" cy="245.3" r="1.45"/><circle cx="457.1" cy="209.2" r="1.87"/><circle cx="453.2" cy="165.8" r="1.67"/><circle cx="447.6" cy="183.5" r="1.54"/><circle cx="445.9" cy="184.1" r="1.56"/><circle cx="455.4" cy="192.7" r="1.26"/><circle cx="442.9" cy="193.8" r="1.49"/><circle cx="451.8" cy="189.3" r="1.14"/><circle cx="458.7" cy="161.1" r="1.83"/><circle cx="444.8" cy="212.1" r="1.23"/><circle cx="458.3" cy="175.8" r="1.70"/><circle cx="446.1" cy="168.8" r="1.85"/><circle cx="453.6" cy="170.2" r="1.49"/><circle cx="448.7" cy="245.8" r="1.14"/><circle cx="446.7" cy="163.9" r="1.11"/><circle cx="446.6" cy="160.5" r="1.80"/><circle cx="457.6" cy="207.9" r="1.50"/><circle cx="459.6" cy="202.4" r="1.44"/><circle cx="456.7" cy="161.1" r="1.23"/><circle cx="456.3" cy="191.9" r="1.30"/><circle cx="439.6" cy="191.4" r="1.79"/><circle cx="444.8" cy="156.5" r="1.14"/><circle cx="449.5" cy="176.7" r="1.65"/><circle cx="460.1" cy="172.3" r="1.64"/><circle cx="455.9" cy="190.7" r="1.53"/><circle cx="457.5" cy="164.9" r="1.27"/><circle cx="452.7" cy="211.7" r="1.23"/><circle cx="452.3" cy="183.9" r="1.31"/><circle cx="457.3" cy="212.1" r="1.32"/><circle cx="450.1" cy="162.4" r="1.49"/><circle cx="446.2" cy="211.5" r="1.06"/><circle cx="456.0" cy="220.9" r="1.74"/><circle cx="459.7" cy="203.1" r="1.56"/><circle cx="452.3" cy="213.8" r="1.03"/><circle cx="448.2" cy="200.1" r="1.80"/><circle cx="451.9" cy="183.0" r="1.03"/><circle cx="454.5" cy="193.9" r="1.78"/><circle cx="455.8" cy="183.1" r="1.63"/><circle cx="440.0" cy="196.3" r="1.80"/><circle cx="453.6" cy="243.2" r="1.37"/><circle cx="444.4" cy="185.2" r="1.46"/><circle cx="446.9" cy="157.6" r="1.82"/><circle cx="442.2" cy="167.3" r="1.89"/><circle cx="444.3" cy="170.5" r="1.84"/><circle cx="448.3" cy="202.1" r="1.41"/><circle cx="442.9" cy="248.8" r="1.76"/><circle cx="446.3" cy="165.5" r="0.78"/><circle cx="444.5" cy="161.9" r="0.86"/><circle cx="445.2" cy="157.3" r="0.60"/><circle cx="447.5" cy="158.0" r="0.99"/><circle cx="457.0" cy="212.3" r="0.59"/><circle cx="459.5" cy="175.1" r="0.84"/><circle cx="456.3" cy="247.7" r="0.85"/><circle cx="443.4" cy="164.6" r="0.74"/><circle cx="449.2" cy="206.6" r="0.87"/><circle cx="445.7" cy="158.3" r="0.62"/><circle cx="454.4" cy="209.2" r="0.67"/><circle cx="458.3" cy="189.2" r="0.60"/><circle cx="443.4" cy="187.8" r="0.51"/><circle cx="454.7" cy="172.9" r="0.97"/><circle cx="447.5" cy="201.9" r="0.86"/><circle cx="446.5" cy="192.0" r="0.73"/><circle cx="441.8" cy="188.5" r="0.51"/><circle cx="445.4" cy="194.4" r="0.78"/><circle cx="458.5" cy="239.7" r="0.76"/><circle cx="452.0" cy="171.9" r="0.80"/><circle cx="450.0" cy="223.5" r="0.90"/><circle cx="444.0" cy="167.8" r="0.64"/><circle cx="452.8" cy="196.0" r="0.59"/><circle cx="450.3" cy="187.5" r="0.98"/><circle cx="444.9" cy="243.6" r="0.77"/><circle cx="460.6" cy="206.4" r="0.60"/><circle cx="459.3" cy="199.5" r="0.80"/><circle cx="452.3" cy="248.5" r="0.80"/><circle cx="456.7" cy="159.6" r="0.54"/><circle cx="447.2" cy="212.1" r="0.53"/><circle cx="444.9" cy="199.9" r="0.74"/><circle cx="459.7" cy="181.5" r="0.94"/><circle cx="439.1" cy="182.0" r="0.76"/><circle cx="442.8" cy="161.5" r="0.71"/><circle cx="455.7" cy="241.4" r="0.98"/><circle cx="457.8" cy="232.4" r="0.96"/><circle cx="438.1" cy="249.6" r="0.65"/><circle cx="442.9" cy="203.9" r="0.82"/><circle cx="456.2" cy="203.2" r="0.53"/><circle cx="441.8" cy="196.1" r="0.88"/><circle cx="444.8" cy="185.5" r="0.79"/><circle cx="442.1" cy="165.9" r="0.98"/><circle cx="450.9" cy="169.6" r="0.71"/><circle cx="455.1" cy="183.6" r="0.76"/><circle cx="455.1" cy="205.7" r="0.59"/><circle cx="452.4" cy="200.5" r="0.79"/><circle cx="461.6" cy="208.9" r="0.84"/><circle cx="446.4" cy="197.6" r="0.66"/><circle cx="443.5" cy="183.2" r="0.74"/><circle cx="453.2" cy="182.4" r="0.66"/><circle cx="442.7" cy="185.9" r="0.55"/><circle cx="438.1" cy="249.2" r="0.93"/><circle cx="451.5" cy="154.9" r="0.61"/><circle cx="447.7" cy="178.0" r="0.62"/><circle cx="445.8" cy="196.6" r="0.54"/><circle cx="442.8" cy="229.8" r="0.50"/><circle cx="452.8" cy="249.1" r="0.78"/><circle cx="445.1" cy="247.3" r="0.84"/><circle cx="454.8" cy="154.8" r="0.79"/><circle cx="450.1" cy="201.2" r="0.87"/><circle cx="446.8" cy="192.0" r="0.61"/><circle cx="444.3" cy="157.3" r="0.73"/><circle cx="452.1" cy="238.6" r="0.94"/><circle cx="441.1" cy="192.3" r="0.96"/><circle cx="457.9" cy="196.0" r="0.79"/><circle cx="439.8" cy="181.7" r="0.94"/><circle cx="449.5" cy="177.3" r="0.94"/><circle cx="447.6" cy="188.4" r="0.92"/><circle cx="440.9" cy="166.5" r="0.85"/><circle cx="455.3" cy="227.2" r="0.64"/><circle cx="445.5" cy="168.1" r="0.86"/><circle cx="462.9" cy="208.3" r="0.89"/><circle cx="454.6" cy="187.7" r="0.89"/><circle cx="451.1" cy="218.2" r="0.59"/><circle cx="444.6" cy="216.2" r="0.98"/><circle cx="439.4" cy="237.3" r="0.91"/><circle cx="456.4" cy="228.0" r="0.92"/><circle cx="442.9" cy="209.3" r="0.53"/><circle cx="453.1" cy="196.6" r="0.61"/><circle cx="452.5" cy="230.5" r="0.59"/><circle cx="455.4" cy="155.2" r="0.61"/><circle cx="448.1" cy="156.0" r="0.79"/><circle cx="459.8" cy="209.5" r="0.67"/><circle cx="447.1" cy="215.0" r="0.55"/><circle cx="453.2" cy="236.6" r="0.94"/><circle cx="444.0" cy="191.2" r="0.74"/><circle cx="456.2" cy="191.5" r="0.82"/><circle cx="454.4" cy="221.6" r="0.96"/><circle cx="444.0" cy="164.9" r="0.73"/><circle cx="456.2" cy="236.8" r="0.68"/><circle cx="455.3" cy="208.4" r="0.64"/><circle cx="451.6" cy="155.4" r="0.94"/><circle cx="456.5" cy="181.9" r="0.58"/><circle cx="452.1" cy="191.8" r="0.81"/><circle cx="450.8" cy="172.7" r="0.54"/><circle cx="448.8" cy="183.8" r="0.55"/><circle cx="459.6" cy="205.0" r="0.88"/><circle cx="451.7" cy="172.5" r="0.63"/><circle cx="446.3" cy="241.3" r="0.80"/><circle cx="457.6" cy="170.2" r="0.67"/><circle cx="456.7" cy="222.0" r="0.98"/><circle cx="446.7" cy="170.4" r="0.52"/><circle cx="449.3" cy="174.7" r="0.76"/><circle cx="447.5" cy="166.8" r="0.76"/><circle cx="446.7" cy="232.6" r="0.96"/><circle cx="445.9" cy="231.2" r="0.56"/><circle cx="462.3" cy="202.5" r="0.54"/><circle cx="451.2" cy="190.3" r="0.81"/><circle cx="443.7" cy="169.7" r="0.69"/><circle cx="452.6" cy="171.7" r="0.70"/><circle cx="453.4" cy="170.7" r="0.65"/><circle cx="454.1" cy="180.5" r="0.52"/><circle cx="454.0" cy="218.6" r="0.60"/><circle cx="449.7" cy="233.0" r="0.63"/><circle cx="454.3" cy="166.7" r="0.71"/><circle cx="446.5" cy="190.1" r="0.79"/><circle cx="448.5" cy="191.6" r="0.99"/><circle cx="445.5" cy="242.8" r="0.90"/><circle cx="443.6" cy="164.5" r="0.81"/><circle cx="442.3" cy="203.5" r="0.84"/><circle cx="453.3" cy="233.3" r="0.64"/><circle cx="450.6" cy="155.0" r="0.99"/><circle cx="440.8" cy="242.5" r="0.70"/><circle cx="459.8" cy="207.5" r="0.94"/><circle cx="452.3" cy="215.0" r="0.86"/><circle cx="438.5" cy="242.8" r="0.67"/><circle cx="440.3" cy="179.0" r="0.81"/><circle cx="441.6" cy="195.3" r="0.79"/><circle cx="446.0" cy="164.1" r="0.95"/><circle cx="455.2" cy="166.5" r="0.76"/><circle cx="443.3" cy="197.2" r="0.93"/><circle cx="448.7" cy="203.6" r="0.64"/><circle cx="450.0" cy="214.8" r="0.82"/><circle cx="453.8" cy="182.8" r="0.95"/><circle cx="454.3" cy="191.4" r="0.67"/><circle cx="446.8" cy="185.7" r="0.92"/><circle cx="451.6" cy="187.7" r="0.80"/><circle cx="452.7" cy="194.7" r="0.75"/><circle cx="457.5" cy="210.5" r="0.95"/></g><g fill="#fff"><circle cx="459.9" cy="239.0" r="0.63"/><circle cx="463.4" cy="200.2" r="0.54"/><circle cx="438.1" cy="246.1" r="0.74"/><circle cx="439.3" cy="189.5" r="0.81"/><circle cx="438.6" cy="199.2" r="0.95"/><circle cx="440.1" cy="162.9" r="0.78"/><circle cx="460.7" cy="196.5" r="0.95"/><circle cx="437.0" cy="185.0" r="1.08"/><circle cx="437.9" cy="198.8" r="0.64"/><circle cx="458.1" cy="249.3" r="0.74"/><circle cx="463.8" cy="206.7" r="0.83"/><circle cx="460.8" cy="177.5" r="0.90"/><circle cx="461.3" cy="240.2" r="0.99"/><circle cx="438.4" cy="236.2" r="1.10"/><circle cx="438.4" cy="170.8" r="0.94"/><circle cx="438.3" cy="174.1" r="0.82"/><circle cx="455.4" cy="220.0" r="0.58"/><circle cx="440.5" cy="167.8" r="0.66"/><circle cx="436.5" cy="238.8" r="0.70"/><circle cx="456.1" cy="215.6" r="0.94"/></g><rect x="497" y="154.7" width="95" height="95.0" fill="#000"/><path d="M536.9,156.1 L537.4,157.6 L537.3,159.1 L535.0,160.6 L537.9,162.1 L537.8,163.6 L536.4,165.1 L536.6,166.6 L534.8,168.1 L535.6,169.6 L537.1,171.1 L537.2,172.6 L536.6,174.1 L534.5,175.6 L535.1,177.1 L537.6,178.6 L535.4,180.1 L536.2,181.6 L535.2,183.1 L536.8,184.6 L537.4,186.1 L535.8,187.6 L535.1,189.1 L535.7,190.6 L534.8,192.1 L535.9,193.6 L537.4,195.1 L535.9,196.6 L536.8,198.1 L536.6,199.6 L534.7,201.1 L531.5,202.6 L532.6,204.1 L531.4,205.6 L532.0,207.1 L532.3,208.6 L535.0,210.1 L533.4,211.6 L534.2,213.1 L533.2,214.6 L535.6,216.1 L533.1,217.6 L533.1,219.1 L534.6,220.6 L533.6,222.1 L534.1,223.6 L533.2,225.1 L532.5,226.6 L534.5,228.1 L532.9,229.6 L535.6,231.1 L533.9,232.6 L534.5,234.1 L534.2,235.6 L533.0,237.1 L533.0,238.6 L535.7,240.1 L535.5,241.6 L535.4,243.1 L533.9,244.6 L534.2,246.1 L534.8,247.6 L537.2,248.5 L555.6,248.5 L554.4,247.6 L555.8,246.1 L554.5,244.6 L555.8,243.1 L556.4,241.6 L553.9,240.1 L555.1,238.6 L556.4,237.1 L554.8,235.6 L556.1,234.1 L554.3,232.6 L555.2,231.1 L553.7,229.6 L556.7,228.1 L554.0,226.6 L554.0,225.1 L554.1,223.6 L555.8,222.1 L555.5,220.6 L553.4,219.1 L555.0,217.6 L554.5,216.1 L554.6,214.6 L555.2,213.1 L554.4,211.6 L556.8,210.1 L556.7,208.6 L557.9,207.1 L555.2,205.6 L557.0,204.1 L557.8,202.6 L557.8,201.1 L555.0,199.6 L554.8,198.1 L556.0,196.6 L555.7,195.1 L555.0,193.6 L556.2,192.1 L556.1,190.6 L554.6,189.1 L555.1,187.6 L555.8,186.1 L558.1,184.6 L558.2,183.1 L557.6,181.6 L558.7,180.1 L558.5,178.6 L556.3,177.1 L558.4,175.6 L556.0,174.1 L556.0,172.6 L556.0,171.1 L558.4,169.6 L556.1,168.1 L557.2,166.6 L556.1,165.1 L555.7,163.6 L557.4,162.1 L556.8,160.6 L558.3,159.1 L558.3,157.6 L557.7,156.1Z" fill="#fff"/><g fill="#000"><circle cx="544.0" cy="247.4" r="1.19"/><circle cx="543.9" cy="224.0" r="1.07"/><circle cx="538.5" cy="193.1" r="1.13"/><circle cx="554.7" cy="248.6" r="1.28"/><circle cx="540.8" cy="202.1" r="0.95"/><circle cx="553.0" cy="180.6" r="1.42"/><circle cx="552.3" cy="189.0" r="1.36"/><circle cx="547.8" cy="220.7" r="1.36"/><circle cx="550.5" cy="189.2" r="1.07"/><circle cx="552.0" cy="200.8" r="1.31"/><circle cx="556.5" cy="182.6" r="1.29"/><circle cx="532.8" cy="209.9" r="1.23"/><circle cx="550.6" cy="178.5" r="1.18"/><circle cx="548.0" cy="232.3" r="1.38"/><circle cx="549.3" cy="187.7" r="1.34"/><circle cx="541.2" cy="233.4" r="1.41"/><circle cx="549.0" cy="237.3" r="1.49"/><circle cx="545.3" cy="245.6" r="1.22"/><circle cx="554.4" cy="170.5" r="1.46"/><circle cx="550.2" cy="200.0" r="1.33"/><circle cx="536.9" cy="224.1" r="1.37"/><circle cx="548.5" cy="209.9" r="1.15"/><circle cx="550.2" cy="214.0" r="1.28"/><circle cx="533.7" cy="223.1" r="1.00"/><circle cx="549.5" cy="196.6" r="1.03"/><circle cx="547.0" cy="219.9" r="0.93"/><circle cx="539.3" cy="199.5" r="0.93"/><circle cx="542.6" cy="167.4" r="1.01"/><circle cx="536.0" cy="173.1" r="1.18"/><circle cx="548.4" cy="190.8" r="1.25"/><circle cx="556.0" cy="177.3" r="0.90"/><circle cx="541.3" cy="193.2" r="1.15"/><circle cx="554.1" cy="165.6" r="1.12"/><circle cx="549.2" cy="158.1" r="0.96"/><circle cx="540.7" cy="206.5" r="0.73"/><circle cx="551.8" cy="245.7" r="0.67"/><circle cx="547.9" cy="231.9" r="0.65"/><circle cx="548.9" cy="168.2" r="0.73"/><circle cx="555.1" cy="245.6" r="0.74"/><circle cx="554.8" cy="188.1" r="0.50"/><circle cx="548.2" cy="165.0" r="0.75"/><circle cx="549.6" cy="168.1" r="0.86"/><circle cx="544.6" cy="190.4" r="0.59"/><circle cx="557.2" cy="182.4" r="0.65"/><circle cx="553.9" cy="246.0" r="0.74"/><circle cx="557.7" cy="179.4" r="0.70"/><circle cx="542.2" cy="194.2" r="0.89"/><circle cx="539.8" cy="201.4" r="0.69"/><circle cx="549.4" cy="166.3" r="0.68"/><circle cx="552.8" cy="182.5" r="0.83"/><circle cx="547.4" cy="156.0" r="0.61"/><circle cx="551.1" cy="243.5" r="0.60"/><circle cx="538.6" cy="180.1" r="0.90"/><circle cx="548.9" cy="182.6" r="0.69"/><circle cx="546.2" cy="216.0" r="0.80"/><circle cx="552.6" cy="165.9" r="0.62"/><circle cx="540.6" cy="205.4" r="0.62"/><circle cx="543.9" cy="205.0" r="0.64"/><circle cx="546.5" cy="225.5" r="0.51"/><circle cx="545.6" cy="178.7" r="0.87"/><circle cx="545.8" cy="239.1" r="0.51"/><circle cx="542.8" cy="228.6" r="0.73"/><circle cx="547.2" cy="222.0" r="0.69"/><circle cx="542.3" cy="241.3" r="0.66"/><circle cx="537.8" cy="235.6" r="0.62"/><circle cx="534.7" cy="233.6" r="0.83"/><circle cx="542.7" cy="220.7" r="0.61"/><circle cx="554.0" cy="228.9" r="0.56"/><circle cx="546.7" cy="200.1" r="0.70"/><circle cx="538.6" cy="186.1" r="0.73"/><circle cx="534.7" cy="231.8" r="0.59"/><circle cx="551.3" cy="232.6" r="0.77"/><circle cx="551.7" cy="157.1" r="0.89"/><circle cx="549.3" cy="249.5" r="0.52"/><circle cx="538.2" cy="234.7" r="0.76"/><circle cx="549.5" cy="245.2" r="0.55"/><circle cx="555.9" cy="182.5" r="0.56"/><circle cx="542.4" cy="212.7" r="0.56"/><circle cx="534.2" cy="213.8" r="0.54"/><circle cx="536.9" cy="190.7" r="0.52"/><circle cx="550.4" cy="209.3" r="0.85"/><circle cx="545.1" cy="167.5" r="0.63"/><circle cx="544.1" cy="211.7" r="0.88"/><circle cx="536.5" cy="190.2" r="0.78"/><circle cx="549.7" cy="169.1" r="0.70"/><circle cx="546.1" cy="241.2" r="0.75"/><circle cx="547.8" cy="179.7" r="0.60"/><circle cx="544.8" cy="226.0" r="0.55"/><circle cx="543.7" cy="177.0" r="0.79"/><circle cx="551.6" cy="171.7" r="0.76"/><circle cx="550.5" cy="162.8" r="0.54"/><circle cx="548.8" cy="166.6" r="0.60"/><circle cx="544.3" cy="238.0" r="0.63"/><circle cx="533.7" cy="230.4" r="0.79"/><circle cx="538.9" cy="159.8" r="0.88"/><circle cx="538.2" cy="219.4" r="0.55"/><circle cx="548.5" cy="247.1" r="0.83"/><circle cx="549.5" cy="168.0" r="0.64"/><circle cx="542.8" cy="177.0" r="0.75"/><circle cx="543.7" cy="187.8" r="0.55"/><circle cx="548.0" cy="233.7" r="0.82"/><circle cx="553.8" cy="195.9" r="0.71"/><circle cx="546.1" cy="211.0" r="0.80"/><circle cx="537.4" cy="192.3" r="0.51"/><circle cx="536.1" cy="173.9" r="0.86"/><circle cx="551.8" cy="200.4" r="0.50"/><circle cx="554.9" cy="199.4" r="0.75"/><circle cx="545.4" cy="195.4" r="0.54"/><circle cx="538.9" cy="169.4" r="0.65"/><circle cx="554.1" cy="191.3" r="0.56"/><circle cx="541.5" cy="178.8" r="0.56"/><circle cx="540.4" cy="182.0" r="0.69"/><circle cx="556.2" cy="157.7" r="0.65"/><circle cx="549.0" cy="243.8" r="0.77"/></g><g fill="#fff"><circle cx="534.1" cy="199.5" r="0.90"/><circle cx="533.4" cy="182.4" r="0.60"/><circle cx="533.9" cy="173.8" r="0.89"/><circle cx="556.9" cy="213.4" r="0.61"/><circle cx="533.6" cy="189.0" r="0.93"/><circle cx="535.3" cy="170.2" r="0.63"/><circle cx="559.6" cy="158.9" r="0.66"/><circle cx="559.2" cy="198.6" r="0.75"/><circle cx="560.2" cy="159.0" r="0.93"/><circle cx="558.0" cy="177.2" r="0.78"/><circle cx="532.4" cy="219.6" r="0.97"/><circle cx="558.7" cy="159.3" r="0.88"/><circle cx="533.3" cy="237.8" r="0.81"/><circle cx="535.6" cy="192.9" r="0.69"/><circle cx="534.2" cy="165.0" r="1.01"/><circle cx="534.3" cy="175.1" r="0.71"/></g><rect x="598" y="154.7" width="94.5" height="95.0" fill="#000"/><path d="M636.8,156.1 L635.5,157.6 L633.6,159.1 L635.4,160.6 L635.0,162.1 L634.6,163.6 L636.4,165.1 L635.6,166.6 L634.2,168.1 L636.6,169.6 L636.6,171.1 L636.8,172.6 L633.7,174.1 L636.6,175.6 L633.7,177.1 L635.8,178.6 L637.1,180.1 L634.1,181.6 L634.7,183.1 L636.9,184.6 L635.8,186.1 L636.4,187.6 L633.3,189.1 L635.6,190.6 L635.5,192.1 L636.6,193.6 L633.6,195.1 L634.3,196.6 L635.0,198.1 L633.9,199.6 L635.8,201.1 L636.1,202.6 L634.3,204.1 L635.5,205.6 L634.5,207.1 L633.5,208.6 L633.2,210.1 L635.9,211.6 L636.9,213.1 L636.8,214.6 L635.6,216.1 L634.7,217.6 L636.1,219.1 L634.8,220.6 L634.5,222.1 L635.8,223.6 L634.8,225.1 L633.5,226.6 L633.3,228.1 L634.3,229.6 L634.6,231.1 L633.8,232.6 L636.3,234.1 L633.9,235.6 L634.7,237.1 L634.3,238.6 L636.0,240.1 L635.4,241.6 L636.4,243.1 L635.1,244.6 L634.3,246.1 L635.9,247.6 L633.9,248.5 L653.1,248.5 L656.8,247.6 L655.0,246.1 L654.4,244.6 L654.6,243.1 L657.0,241.6 L654.4,240.1 L654.3,238.6 L653.6,237.1 L655.0,235.6 L655.5,234.1 L654.7,232.6 L656.8,231.1 L654.1,229.6 L655.4,228.1 L653.1,226.6 L656.2,225.1 L654.1,223.6 L653.4,222.1 L655.9,220.6 L655.1,219.1 L656.4,217.6 L656.6,216.1 L656.6,214.6 L654.0,213.1 L654.6,211.6 L654.7,210.1 L657.0,208.6 L654.6,207.1 L654.2,205.6 L656.6,204.1 L653.1,202.6 L653.0,201.1 L656.4,199.6 L653.5,198.1 L653.7,196.6 L655.6,195.1 L655.0,193.6 L653.3,192.1 L654.1,190.6 L654.3,189.1 L656.8,187.6 L655.7,186.1 L654.9,184.6 L656.6,183.1 L655.4,181.6 L655.2,180.1 L654.0,178.6 L653.6,177.1 L654.5,175.6 L656.0,174.1 L654.1,172.6 L655.5,171.1 L653.8,169.6 L654.9,168.1 L655.4,166.6 L654.3,165.1 L655.9,163.6 L655.7,162.1 L655.7,160.6 L655.3,159.1 L653.7,157.6 L655.9,156.1Z" fill="#fff"/><g fill="#000"><circle cx="635.3" cy="197.4" r="1.02"/><circle cx="636.3" cy="228.2" r="1.57"/><circle cx="654.6" cy="189.1" r="1.68"/><circle cx="638.6" cy="160.6" r="1.76"/><circle cx="643.3" cy="213.0" r="1.63"/><circle cx="644.8" cy="232.0" r="1.38"/><circle cx="642.2" cy="164.2" r="1.12"/><circle cx="647.3" cy="214.1" r="1.12"/><circle cx="636.1" cy="214.4" r="1.08"/><circle cx="644.1" cy="216.0" r="1.72"/><circle cx="649.4" cy="214.5" r="1.10"/><circle cx="635.7" cy="233.8" r="1.49"/><circle cx="654.0" cy="241.3" r="1.71"/><circle cx="649.3" cy="197.6" r="1.63"/><circle cx="654.5" cy="167.7" r="1.73"/><circle cx="651.1" cy="196.6" r="1.36"/><circle cx="649.6" cy="181.0" r="1.05"/><circle cx="655.6" cy="230.7" r="1.23"/><circle cx="635.6" cy="244.0" r="1.69"/><circle cx="655.1" cy="181.3" r="1.34"/><circle cx="634.5" cy="242.3" r="1.07"/><circle cx="648.0" cy="232.3" r="1.43"/><circle cx="638.2" cy="157.8" r="1.30"/><circle cx="655.5" cy="159.6" r="1.61"/><circle cx="649.4" cy="244.9" r="1.27"/><circle cx="650.0" cy="162.1" r="1.09"/><circle cx="644.2" cy="206.7" r="1.40"/><circle cx="636.1" cy="161.8" r="1.42"/><circle cx="645.6" cy="157.6" r="1.12"/><circle cx="637.5" cy="181.5" r="1.45"/><circle cx="639.0" cy="191.6" r="1.18"/><circle cx="654.0" cy="208.3" r="1.34"/><circle cx="641.2" cy="170.2" r="1.19"/><circle cx="651.3" cy="209.1" r="1.46"/><circle cx="641.3" cy="172.6" r="1.30"/><circle cx="642.8" cy="196.6" r="1.80"/><circle cx="648.6" cy="207.1" r="1.57"/><circle cx="651.7" cy="216.0" r="1.30"/><circle cx="655.4" cy="218.0" r="1.13"/><circle cx="642.4" cy="214.1" r="1.05"/><circle cx="650.6" cy="158.5" r="1.09"/><circle cx="636.1" cy="222.2" r="1.29"/><circle cx="646.0" cy="157.8" r="1.63"/><circle cx="646.5" cy="176.1" r="1.74"/><circle cx="644.4" cy="182.6" r="1.58"/><circle cx="637.5" cy="236.8" r="1.53"/><circle cx="636.8" cy="166.1" r="1.79"/><circle cx="653.9" cy="159.5" r="1.60"/><circle cx="650.0" cy="218.9" r="1.52"/><circle cx="643.8" cy="182.0" r="1.16"/><circle cx="651.1" cy="236.3" r="1.63"/><circle cx="647.0" cy="175.0" r="1.20"/><circle cx="650.4" cy="229.8" r="1.80"/><circle cx="649.0" cy="222.0" r="1.62"/><circle cx="647.1" cy="163.6" r="1.03"/><circle cx="636.7" cy="189.6" r="1.76"/><circle cx="654.0" cy="157.4" r="1.76"/><circle cx="652.3" cy="196.1" r="1.04"/><circle cx="634.6" cy="167.9" r="1.05"/><circle cx="652.0" cy="154.9" r="1.07"/><circle cx="640.0" cy="210.8" r="1.11"/><circle cx="638.1" cy="194.5" r="1.78"/><circle cx="647.1" cy="191.2" r="1.45"/><circle cx="644.5" cy="214.3" r="1.22"/><circle cx="653.3" cy="167.7" r="1.15"/><circle cx="651.8" cy="197.3" r="0.79"/><circle cx="651.8" cy="244.8" r="0.76"/><circle cx="647.0" cy="166.1" r="0.74"/><circle cx="645.6" cy="236.6" r="0.85"/><circle cx="644.3" cy="231.8" r="0.92"/><circle cx="637.2" cy="240.1" r="0.96"/><circle cx="652.8" cy="237.3" r="0.67"/><circle cx="637.2" cy="178.6" r="0.69"/><circle cx="641.9" cy="235.9" r="0.50"/><circle cx="636.0" cy="183.7" r="0.81"/><circle cx="654.4" cy="227.7" r="0.54"/><circle cx="636.9" cy="190.8" r="0.96"/><circle cx="645.4" cy="234.2" r="0.98"/><circle cx="651.1" cy="204.1" r="0.74"/><circle cx="655.8" cy="189.3" r="0.92"/><circle cx="653.1" cy="210.9" r="0.82"/><circle cx="635.3" cy="230.5" r="0.57"/><circle cx="647.3" cy="165.1" r="0.86"/><circle cx="645.2" cy="169.4" r="0.56"/><circle cx="651.1" cy="220.0" r="0.54"/><circle cx="648.6" cy="247.8" r="0.56"/><circle cx="637.6" cy="188.0" r="0.86"/><circle cx="637.7" cy="241.8" r="0.59"/><circle cx="652.9" cy="214.4" r="0.87"/><circle cx="636.5" cy="198.2" r="0.81"/><circle cx="651.7" cy="198.0" r="0.79"/><circle cx="655.4" cy="224.4" r="0.81"/><circle cx="639.9" cy="241.3" r="0.50"/><circle cx="634.4" cy="238.5" r="1.00"/><circle cx="635.4" cy="198.0" r="0.64"/><circle cx="642.4" cy="223.2" r="0.81"/><circle cx="652.2" cy="164.4" r="0.69"/><circle cx="637.1" cy="233.8" r="0.83"/><circle cx="642.9" cy="199.3" r="0.51"/><circle cx="652.4" cy="205.2" r="0.55"/><circle cx="634.3" cy="197.0" r="1.00"/><circle cx="648.9" cy="246.8" r="0.74"/><circle cx="637.1" cy="161.4" r="0.85"/><circle cx="655.8" cy="230.2" r="0.93"/><circle cx="639.7" cy="196.3" r="0.77"/><circle cx="646.0" cy="187.6" r="0.94"/><circle cx="655.6" cy="197.7" r="0.86"/><circle cx="650.3" cy="159.0" r="0.83"/><circle cx="634.0" cy="213.8" r="0.94"/><circle cx="645.8" cy="201.8" r="0.59"/><circle cx="634.9" cy="158.1" r="0.60"/><circle cx="637.6" cy="183.6" r="0.53"/><circle cx="649.4" cy="223.8" r="0.94"/><circle cx="650.0" cy="175.4" r="0.80"/><circle cx="653.0" cy="163.3" r="0.68"/><circle cx="638.3" cy="172.3" r="0.96"/><circle cx="642.6" cy="175.7" r="0.77"/><circle cx="648.4" cy="188.8" r="0.54"/><circle cx="646.9" cy="195.5" r="0.81"/><circle cx="639.9" cy="212.6" r="0.82"/><circle cx="644.5" cy="247.1" r="0.82"/><circle cx="639.4" cy="234.2" r="0.63"/><circle cx="640.4" cy="246.9" r="0.71"/><circle cx="655.7" cy="189.9" r="0.77"/><circle cx="637.4" cy="239.8" r="0.64"/><circle cx="641.0" cy="216.4" r="0.83"/><circle cx="635.7" cy="202.9" r="0.56"/><circle cx="645.7" cy="196.4" r="0.59"/><circle cx="634.3" cy="179.7" r="0.63"/><circle cx="642.6" cy="184.1" r="0.80"/><circle cx="649.8" cy="235.7" r="0.87"/><circle cx="644.9" cy="181.6" r="0.86"/><circle cx="639.1" cy="239.6" r="0.51"/><circle cx="645.4" cy="159.5" r="0.94"/><circle cx="651.1" cy="169.3" r="0.82"/><circle cx="653.9" cy="236.8" r="0.55"/><circle cx="636.8" cy="230.1" r="0.56"/><circle cx="644.8" cy="192.6" r="0.53"/><circle cx="638.1" cy="180.9" r="0.57"/><circle cx="635.0" cy="164.1" r="0.61"/><circle cx="643.3" cy="185.8" r="0.85"/><circle cx="644.7" cy="212.8" r="0.66"/><circle cx="638.2" cy="213.1" r="0.59"/><circle cx="648.7" cy="165.4" r="0.57"/><circle cx="641.9" cy="175.9" r="0.78"/><circle cx="647.0" cy="216.2" r="0.80"/><circle cx="653.9" cy="173.0" r="0.87"/><circle cx="642.8" cy="193.4" r="0.79"/><circle cx="648.1" cy="166.1" r="0.95"/><circle cx="645.0" cy="189.3" r="0.63"/><circle cx="642.2" cy="241.1" r="0.68"/><circle cx="642.1" cy="222.4" r="0.95"/><circle cx="647.0" cy="193.8" r="0.65"/><circle cx="644.4" cy="210.7" r="0.55"/><circle cx="637.3" cy="239.2" r="0.79"/><circle cx="644.3" cy="219.0" r="0.66"/><circle cx="656.0" cy="197.8" r="0.51"/><circle cx="647.3" cy="238.8" r="0.74"/><circle cx="648.1" cy="215.3" r="0.92"/><circle cx="645.2" cy="247.5" r="0.68"/><circle cx="653.9" cy="189.1" r="0.74"/><circle cx="646.9" cy="161.4" r="0.56"/><circle cx="648.3" cy="187.6" r="0.81"/><circle cx="652.3" cy="205.7" r="0.80"/><circle cx="651.9" cy="246.9" r="0.63"/><circle cx="641.9" cy="228.9" r="0.97"/><circle cx="643.2" cy="213.5" r="0.59"/><circle cx="641.6" cy="235.3" r="0.51"/><circle cx="634.0" cy="231.0" r="0.52"/><circle cx="648.1" cy="157.6" r="0.78"/><circle cx="654.6" cy="200.6" r="0.74"/><circle cx="655.7" cy="174.2" r="0.56"/><circle cx="639.2" cy="159.4" r="0.99"/><circle cx="641.9" cy="194.4" r="0.68"/><circle cx="650.6" cy="189.9" r="0.82"/><circle cx="638.4" cy="181.2" r="0.91"/><circle cx="645.0" cy="208.0" r="0.60"/><circle cx="645.5" cy="247.5" r="0.96"/><circle cx="648.0" cy="218.7" r="0.51"/><circle cx="652.8" cy="241.5" r="0.54"/><circle cx="648.8" cy="162.5" r="0.83"/><circle cx="655.6" cy="173.0" r="0.55"/><circle cx="644.6" cy="208.7" r="0.67"/><circle cx="643.7" cy="218.2" r="0.88"/><circle cx="634.0" cy="227.9" r="0.66"/><circle cx="640.5" cy="206.2" r="0.80"/><circle cx="636.8" cy="157.5" r="0.76"/><circle cx="638.8" cy="175.1" r="0.71"/><circle cx="648.4" cy="211.2" r="0.80"/><circle cx="643.5" cy="202.0" r="0.93"/><circle cx="653.8" cy="236.7" r="0.97"/><circle cx="638.3" cy="218.5" r="0.85"/><circle cx="640.7" cy="181.6" r="0.70"/><circle cx="643.8" cy="157.8" r="0.60"/><circle cx="643.6" cy="176.8" r="0.88"/><circle cx="640.9" cy="216.7" r="0.86"/><circle cx="641.9" cy="193.3" r="0.70"/><circle cx="637.6" cy="181.9" r="0.98"/><circle cx="648.4" cy="211.3" r="0.80"/><circle cx="647.8" cy="202.3" r="0.50"/><circle cx="645.8" cy="160.9" r="0.73"/><circle cx="639.0" cy="155.9" r="0.65"/><circle cx="652.4" cy="246.6" r="0.52"/><circle cx="641.8" cy="191.6" r="0.57"/><circle cx="655.6" cy="182.3" r="0.96"/><circle cx="651.1" cy="180.4" r="0.56"/><circle cx="635.8" cy="214.7" r="0.82"/><circle cx="655.9" cy="211.5" r="0.79"/><circle cx="639.2" cy="241.3" r="0.81"/><circle cx="635.8" cy="174.5" r="0.99"/><circle cx="642.0" cy="157.3" r="0.66"/><circle cx="652.7" cy="173.8" r="0.88"/><circle cx="646.4" cy="191.1" r="0.91"/><circle cx="648.4" cy="160.3" r="0.93"/><circle cx="645.5" cy="212.2" r="0.62"/><circle cx="638.2" cy="170.7" r="0.68"/><circle cx="651.1" cy="181.8" r="0.58"/><circle cx="651.4" cy="166.7" r="0.73"/><circle cx="651.8" cy="165.6" r="0.52"/><circle cx="643.0" cy="190.1" r="0.76"/><circle cx="654.2" cy="177.4" r="0.79"/><circle cx="648.0" cy="185.8" r="0.69"/><circle cx="647.1" cy="207.9" r="0.62"/><circle cx="635.9" cy="237.4" r="0.97"/><circle cx="645.2" cy="195.0" r="0.55"/><circle cx="641.3" cy="203.3" r="0.81"/><circle cx="636.1" cy="219.9" r="0.54"/><circle cx="638.3" cy="239.8" r="0.84"/><circle cx="651.2" cy="224.1" r="0.50"/><circle cx="652.5" cy="215.3" r="0.52"/><circle cx="653.2" cy="155.4" r="0.85"/><circle cx="650.9" cy="221.8" r="0.81"/><circle cx="637.8" cy="173.8" r="0.51"/><circle cx="648.6" cy="217.3" r="1.00"/><circle cx="637.4" cy="178.0" r="0.69"/></g><g fill="#fff"><circle cx="633.3" cy="244.1" r="0.92"/><circle cx="632.1" cy="175.3" r="0.88"/><circle cx="633.9" cy="198.8" r="0.84"/><circle cx="632.7" cy="214.5" r="0.64"/><circle cx="658.1" cy="228.2" r="0.66"/><circle cx="656.8" cy="195.8" r="0.71"/><circle cx="657.8" cy="165.8" r="0.66"/><circle cx="634.6" cy="176.8" r="1.05"/><circle cx="632.5" cy="169.6" r="0.70"/><circle cx="634.0" cy="194.9" r="1.09"/><circle cx="634.1" cy="180.8" r="0.56"/><circle cx="632.8" cy="175.2" r="0.69"/><circle cx="631.6" cy="228.8" r="0.93"/><circle cx="631.9" cy="207.0" r="1.07"/><circle cx="656.4" cy="240.9" r="0.84"/><circle cx="657.8" cy="191.2" r="0.78"/><circle cx="632.5" cy="215.6" r="0.68"/><circle cx="634.0" cy="168.8" r="0.58"/></g><line x1="88" y1="317.4" x2="88" y2="479.4" stroke="#000" stroke-width="2"/><line x1="80" y1="478.4" x2="88" y2="478.4" stroke="#000" stroke-width="2"/><text x="77.0" y="482.79999999999995" font-family="Liberation Sans, sans-serif" font-size="12.5" font-weight="normal" text-anchor="end" fill="#000">0.0</text><line x1="80" y1="446.4" x2="88" y2="446.4" stroke="#000" stroke-width="2"/><text x="77.0" y="450.79999999999995" font-family="Liberation Sans, sans-serif" font-size="12.5" font-weight="normal" text-anchor="end" fill="#000">0.2</text><line x1="80" y1="414.4" x2="88" y2="414.4" stroke="#000" stroke-width="2"/><text x="77.0" y="418.79999999999995" font-family="Liberation Sans, sans-serif" font-size="12.5" font-weight="normal" text-anchor="end" fill="#000">0.4</text><line x1="80" y1="382.4" x2="88" y2="382.4" stroke="#000" stroke-width="2"/><text x="77.0" y="386.79999999999995" font-family="Liberation Sans, sans-serif" font-size="12.5" font-weight="normal" text-anchor="end" fill="#000">0.6</text><line x1="80" y1="350.4" x2="88" y2="350.4" stroke="#000" stroke-width="2"/><text x="77.0" y="354.79999999999995" font-family="Liberation Sans, sans-serif" font-size="12.5" font-weight="normal" text-anchor="end" fill="#000">0.8</text><line x1="80" y1="318.4" x2="88" y2="318.4" stroke="#000" stroke-width="2"/><text x="77.0" y="322.79999999999995" font-family="Liberation Sans, sans-serif" font-size="12.5" font-weight="normal" text-anchor="end" fill="#000">1.0</text><line x1="80" y1="478.4" x2="296.8" y2="478.4" stroke="#000" stroke-width="2"/><line x1="129.5" y1="478.4" x2="129.5" y2="486.4" stroke="#000" stroke-width="2"/><text x="129.5" y="501.29999999999995" font-family="Liberation Sans, sans-serif" font-size="12.6" font-weight="normal" text-anchor="middle" fill="#000">0</text><line x1="192.2" y1="478.4" x2="192.2" y2="486.4" stroke="#000" stroke-width="2"/><text x="192.2" y="501.29999999999995" font-family="Liberation Sans, sans-serif" font-size="12.6" font-weight="normal" text-anchor="middle" fill="#000">6</text><line x1="254.9" y1="478.4" x2="254.9" y2="486.4" stroke="#000" stroke-width="2"/><text x="254.9" y="501.29999999999995" font-family="Liberation Sans, sans-serif" font-size="12.6" font-weight="normal" text-anchor="middle" fill="#000">10</text><text x="298.8" y="501.0" font-family="Liberation Sans, sans-serif" font-size="12.9" font-weight="normal" text-anchor="start" fill="#000">[hrs]</text><text x="43.3" y="403.0" font-family="Liberation Sans, sans-serif" font-size="12.7" font-weight="normal" text-anchor="middle" fill="#000" transform="rotate(-90 43.3 403.0)">Scratch area normalized to T=0</text><line x1="192.2" y1="386.56" x2="192.2" y2="371.67999999999995" stroke="#000" stroke-width="1.3"/><line x1="188.79999999999998" y1="386.56" x2="195.6" y2="386.56" stroke="#000" stroke-width="1.3"/><line x1="188.79999999999998" y1="371.67999999999995" x2="195.6" y2="371.67999999999995" stroke="#000" stroke-width="1.3"/><line x1="254.9" y1="425.91999999999996" x2="254.9" y2="417.12" stroke="#000" stroke-width="1.3"/><line x1="251.5" y1="425.91999999999996" x2="258.3" y2="425.91999999999996" stroke="#000" stroke-width="1.3"/><line x1="251.5" y1="417.12" x2="258.3" y2="417.12" stroke="#000" stroke-width="1.3"/><line x1="192.2" y1="355.2" x2="192.2" y2="348.32" stroke="#8a2a20" stroke-width="1.3"/><line x1="188.79999999999998" y1="355.2" x2="195.6" y2="355.2" stroke="#8a2a20" stroke-width="1.3"/><line x1="188.79999999999998" y1="348.32" x2="195.6" y2="348.32" stroke="#8a2a20" stroke-width="1.3"/><line x1="254.9" y1="404.47999999999996" x2="254.9" y2="393.59999999999997" stroke="#8a2a20" stroke-width="1.3"/><line x1="251.5" y1="404.47999999999996" x2="258.3" y2="404.47999999999996" stroke="#8a2a20" stroke-width="1.3"/><line x1="251.5" y1="393.59999999999997" x2="258.3" y2="393.59999999999997" stroke="#8a2a20" stroke-width="1.3"/><line x1="192.2" y1="369.59999999999997" x2="192.2" y2="358.4" stroke="#241a80" stroke-width="1.3"/><line x1="188.79999999999998" y1="369.59999999999997" x2="195.6" y2="369.59999999999997" stroke="#241a80" stroke-width="1.3"/><line x1="188.79999999999998" y1="358.4" x2="195.6" y2="358.4" stroke="#241a80" stroke-width="1.3"/><line x1="254.9" y1="416.0" x2="254.9" y2="412.47999999999996" stroke="#241a80" stroke-width="1.3"/><line x1="251.5" y1="416.0" x2="258.3" y2="416.0" stroke="#241a80" stroke-width="1.3"/><line x1="251.5" y1="412.47999999999996" x2="258.3" y2="412.47999999999996" stroke="#241a80" stroke-width="1.3"/><polyline points="129.5,318.4 192.2,379.0 254.9,420.2" fill="none" stroke="#000" stroke-width="2.2"/><circle cx="129.5" cy="318.4" r="3.0" fill="#000"/><circle cx="192.2" cy="379.0" r="3.0" fill="#000"/><circle cx="254.9" cy="420.2" r="3.0" fill="#000"/><polyline points="129.5,318.4 192.2,353.1 254.9,399.4" fill="none" stroke="#b83a28" stroke-width="2.2"/><circle cx="129.5" cy="318.4" r="3.0" fill="#e8391c"/><circle cx="192.2" cy="353.1" r="3.0" fill="#e8391c"/><circle cx="254.9" cy="399.4" r="3.0" fill="#e8391c"/><polyline points="129.5,318.4 192.2,364.0 254.9,414.2" fill="none" stroke="#2a14a8" stroke-width="2.2"/><circle cx="129.5" cy="318.4" r="3.0" fill="#3a1fe6"/><circle cx="192.2" cy="364.0" r="3.0" fill="#3a1fe6"/><circle cx="254.9" cy="414.2" r="3.0" fill="#3a1fe6"/><line x1="89" y1="536.5" x2="110.8" y2="536.5" stroke="#000" stroke-width="2"/><circle cx="99.8" cy="536.5" r="2.6" fill="#000"/><text x="122.3" y="540.8" font-family="Liberation Sans, sans-serif" font-size="12.5" font-weight="bold" text-anchor="start" fill="#000">NS</text><line x1="160" y1="536.5" x2="182.2" y2="536.5" stroke="#e0402e" stroke-width="2"/><circle cx="171.5" cy="536.5" r="2.6" fill="#e0402e"/><text x="193.6" y="540.8" font-family="Liberation Sans, sans-serif" font-size="12.5" font-weight="bold" text-anchor="start" fill="#000">TCC</text><line x1="240" y1="536.5" x2="261.8" y2="536.5" stroke="#3a22d6" stroke-width="2"/><circle cx="251.2" cy="536.5" r="2.6" fill="#3a22d6"/><text x="273.6" y="540.8" font-family="Liberation Sans, sans-serif" font-size="12.5" font-weight="bold" text-anchor="start" fill="#000">HTP</text><line x1="446.3" y1="317.4" x2="446.3" y2="479.4" stroke="#000" stroke-width="2"/><line x1="438.3" y1="478.4" x2="446.3" y2="478.4" stroke="#000" stroke-width="2"/><text x="435.3" y="482.79999999999995" font-family="Liberation Sans, sans-serif" font-size="12.5" font-weight="normal" text-anchor="end" fill="#000">0.0</text><line x1="438.3" y1="446.4" x2="446.3" y2="446.4" stroke="#000" stroke-width="2"/><text x="435.3" y="450.79999999999995" font-family="Liberation Sans, sans-serif" font-size="12.5" font-weight="normal" text-anchor="end" fill="#000">0.2</text><line x1="438.3" y1="414.4" x2="446.3" y2="414.4" stroke="#000" stroke-width="2"/><text x="435.3" y="418.79999999999995" font-family="Liberation Sans, sans-serif" font-size="12.5" font-weight="normal" text-anchor="end" fill="#000">0.4</text><line x1="438.3" y1="382.4" x2="446.3" y2="382.4" stroke="#000" stroke-width="2"/><text x="435.3" y="386.79999999999995" font-family="Liberation Sans, sans-serif" font-size="12.5" font-weight="normal" text-anchor="end" fill="#000">0.6</text><line x1="438.3" y1="350.4" x2="446.3" y2="350.4" stroke="#000" stroke-width="2"/><text x="435.3" y="354.79999999999995" font-family="Liberation Sans, sans-serif" font-size="12.5" font-weight="normal" text-anchor="end" fill="#000">0.8</text><line x1="438.3" y1="318.4" x2="446.3" y2="318.4" stroke="#000" stroke-width="2"/><text x="435.3" y="322.79999999999995" font-family="Liberation Sans, sans-serif" font-size="12.5" font-weight="normal" text-anchor="end" fill="#000">1.0</text><line x1="438.3" y1="478.4" x2="673.8" y2="478.4" stroke="#000" stroke-width="2"/><line x1="500.5" y1="478.4" x2="500.5" y2="486.4" stroke="#000" stroke-width="2"/><text x="500.5" y="501.29999999999995" font-family="Liberation Sans, sans-serif" font-size="12.6" font-weight="normal" text-anchor="middle" fill="#000">6</text><line x1="619.6" y1="478.4" x2="619.6" y2="486.4" stroke="#000" stroke-width="2"/><text x="619.6" y="501.29999999999995" font-family="Liberation Sans, sans-serif" font-size="12.6" font-weight="normal" text-anchor="middle" fill="#000">10</text><text x="674.6" y="501.0" font-family="Liberation Sans, sans-serif" font-size="12.9" font-weight="normal" text-anchor="start" fill="#000">[hrs]</text><text x="402.2" y="403.0" font-family="Liberation Sans, sans-serif" font-size="12.7" font-weight="normal" text-anchor="middle" fill="#000" transform="rotate(-90 402.2 403.0)">Scratch area normalized to T=0</text><line x1="468.09999999999997" y1="372.0" x2="468.09999999999997" y2="379.2" stroke="#000" stroke-width="1.3"/><line x1="462.79999999999995" y1="372.0" x2="473.4" y2="372.0" stroke="#000" stroke-width="1.3"/><rect x="458.75" y="380.55" width="18.7" height="97.85" fill="#fff" stroke="#000" stroke-width="2.7"/><line x1="468.09999999999997" y1="379.2" x2="468.09999999999997" y2="385.59999999999997" stroke="#000" stroke-width="1.3"/><line x1="462.79999999999995" y1="385.59999999999997" x2="473.4" y2="385.59999999999997" stroke="#000" stroke-width="1.3"/><circle cx="467.4" cy="341.6" r="2.65" fill="#000"/><circle cx="467.4" cy="353.6" r="2.65" fill="#000"/><circle cx="467.4" cy="361.6" r="2.65" fill="#000"/><circle cx="459.8" cy="384.8" r="2.65" fill="#000"/><circle cx="464" cy="385.9" r="2.65" fill="#000"/><circle cx="470.7" cy="387.8" r="2.65" fill="#000"/><circle cx="475" cy="384.8" r="2.65" fill="#000"/><circle cx="467.4" cy="396.8" r="2.65" fill="#000"/><circle cx="467.4" cy="408.3" r="2.65" fill="#000"/><line x1="500.7" y1="348.79999999999995" x2="500.7" y2="354.24" stroke="#000" stroke-width="1.3"/><line x1="495.4" y1="348.79999999999995" x2="506.0" y2="348.79999999999995" stroke="#000" stroke-width="1.3"/><rect x="491.35" y="355.59000000000003" width="18.7" height="122.80999999999997" fill="#fc2d0f" stroke="#000" stroke-width="2.7"/><line x1="500.7" y1="354.24" x2="500.7" y2="360.0" stroke="#000" stroke-width="1.3"/><line x1="495.4" y1="360.0" x2="506.0" y2="360.0" stroke="#000" stroke-width="1.3"/><circle cx="492.5" cy="339.2" r="2.65" fill="#000"/><circle cx="500.4" cy="336.0" r="2.65" fill="#000"/><circle cx="508.3" cy="336.0" r="2.65" fill="#000"/><circle cx="496.2" cy="350.4" r="2.65" fill="#000"/><circle cx="504.4" cy="348.0" r="2.65" fill="#000"/><circle cx="508" cy="361.6" r="2.65" fill="#000"/><circle cx="500.4" cy="364.8" r="2.65" fill="#000"/><circle cx="504.4" cy="371.2" r="2.65" fill="#000"/><circle cx="496.2" cy="376.0" r="2.65" fill="#000"/><line x1="532.7" y1="356.0" x2="532.7" y2="363.84" stroke="#000" stroke-width="1.3"/><line x1="527.4000000000001" y1="356.0" x2="538.0" y2="356.0" stroke="#000" stroke-width="1.3"/><rect x="523.35" y="365.19" width="18.7" height="113.21000000000001" fill="#2c14fa" stroke="#000" stroke-width="2.7"/><line x1="532.7" y1="363.84" x2="532.7" y2="371.2" stroke="#000" stroke-width="1.3"/><line x1="527.4000000000001" y1="371.2" x2="538.0" y2="371.2" stroke="#000" stroke-width="1.3"/><circle cx="525" cy="338.9" r="2.65" fill="#000"/><circle cx="532.7" cy="343.7" r="2.65" fill="#000"/><circle cx="540.8" cy="343.5" r="2.65" fill="#000"/><circle cx="533" cy="359.2" r="2.65" fill="#000"/><circle cx="533" cy="373.6" r="2.65" fill="#000"/><circle cx="533" cy="382.4" r="2.65" fill="#000"/><circle cx="533" cy="403.2" r="2.65" fill="#000"/><line x1="587.2" y1="414.4" x2="587.2" y2="419.84" stroke="#000" stroke-width="1.3"/><line x1="581.9000000000001" y1="414.4" x2="592.5" y2="414.4" stroke="#000" stroke-width="1.3"/><rect x="577.85" y="421.19" width="18.7" height="57.21" fill="#fff" stroke="#000" stroke-width="2.7"/><line x1="587.2" y1="419.84" x2="587.2" y2="425.59999999999997" stroke="#000" stroke-width="1.3"/><line x1="581.9000000000001" y1="425.59999999999997" x2="592.5" y2="425.59999999999997" stroke="#000" stroke-width="1.3"/><circle cx="579.2" cy="398.4" r="2.65" fill="#000"/><circle cx="594.9" cy="401.6" r="2.65" fill="#000"/><circle cx="587" cy="408.8" r="2.65" fill="#000"/><circle cx="579.2" cy="429.9" r="2.65" fill="#000"/><circle cx="579.2" cy="432.6" r="2.65" fill="#000"/><circle cx="579.2" cy="438.1" r="2.65" fill="#000"/><circle cx="594.9" cy="429.0" r="2.65" fill="#000"/><circle cx="594.9" cy="433.6" r="2.65" fill="#000"/><line x1="619.9000000000001" y1="393.59999999999997" x2="619.9000000000001" y2="398.88" stroke="#000" stroke-width="1.3"/><line x1="614.6000000000001" y1="393.59999999999997" x2="625.2" y2="393.59999999999997" stroke="#000" stroke-width="1.3"/><rect x="610.5500000000001" y="400.23" width="18.7" height="78.16999999999999" fill="#fc2d0f" stroke="#000" stroke-width="2.7"/><line x1="619.9000000000001" y1="398.88" x2="619.9000000000001" y2="404.0" stroke="#000" stroke-width="1.3"/><line x1="614.6000000000001" y1="404.0" x2="625.2" y2="404.0" stroke="#000" stroke-width="1.3"/><circle cx="619.7" cy="374.4" r="2.65" fill="#000"/><circle cx="611.4" cy="386.4" r="2.65" fill="#000"/><circle cx="627.7" cy="390.4" r="2.65" fill="#000"/><circle cx="611.4" cy="394.1" r="2.65" fill="#000"/><circle cx="627.7" cy="398.9" r="2.65" fill="#000"/><circle cx="611.4" cy="409.6" r="2.65" fill="#000"/><circle cx="627.7" cy="410.4" r="2.65" fill="#000"/><circle cx="619.4" cy="422.4" r="2.65" fill="#000"/><line x1="652.7" y1="410.4" x2="652.7" y2="412.79999999999995" stroke="#000" stroke-width="1.3"/><line x1="647.4000000000001" y1="410.4" x2="658.0" y2="410.4" stroke="#000" stroke-width="1.3"/><rect x="643.35" y="414.15" width="18.7" height="64.25000000000003" fill="#2c14fa" stroke="#000" stroke-width="2.7"/><line x1="652.7" y1="412.79999999999995" x2="652.7" y2="415.2" stroke="#000" stroke-width="1.3"/><line x1="647.4000000000001" y1="415.2" x2="658.0" y2="415.2" stroke="#000" stroke-width="1.3"/><circle cx="654.9" cy="406.9" r="2.65" fill="#000"/><circle cx="649.4" cy="409.4" r="2.65" fill="#000"/><circle cx="660.4" cy="411.4" r="2.65" fill="#000"/><circle cx="643.8" cy="413.1" r="2.65" fill="#000"/><circle cx="649.4" cy="421.4" r="2.65" fill="#000"/><circle cx="653.6" cy="419.7" r="2.65" fill="#000"/><line x1="438.3" y1="478.4" x2="673.8" y2="478.4" stroke="#000" stroke-width="2"/><line x1="467.2" y1="313.1" x2="500.9" y2="313.1" stroke="#000" stroke-width="1.4"/><text x="484" y="312.3" font-family="Liberation Sans, sans-serif" font-size="19" font-weight="bold" text-anchor="middle" fill="#000">**</text><line x1="586.6" y1="313.1" x2="619.8" y2="313.1" stroke="#000" stroke-width="1.4"/><text x="603.2" y="312.3" font-family="Liberation Sans, sans-serif" font-size="19" font-weight="bold" text-anchor="middle" fill="#000">*</text><rect x="439.25" y="529.75" width="11.0" height="11.0" fill="#fff" stroke="#111" stroke-width="1.5"/><text x="467" y="540.2" font-family="Liberation Sans, sans-serif" font-size="12.5" font-weight="bold" text-anchor="start" fill="#000">NS</text><rect x="529.75" y="529.75" width="11.0" height="11.0" fill="#fc2d0f" stroke="#111" stroke-width="1.5"/><text x="557.5" y="540.2" font-family="Liberation Sans, sans-serif" font-size="12.5" font-weight="bold" text-anchor="start" fill="#000">TCC</text><rect x="617.75" y="529.75" width="11.0" height="11.0" fill="#2c14fa" stroke="#111" stroke-width="1.5"/><text x="649" y="540.2" font-family="Liberation Sans, sans-serif" font-size="12.5" font-weight="bold" text-anchor="start" fill="#000">HTP</text></svg></body></html>
